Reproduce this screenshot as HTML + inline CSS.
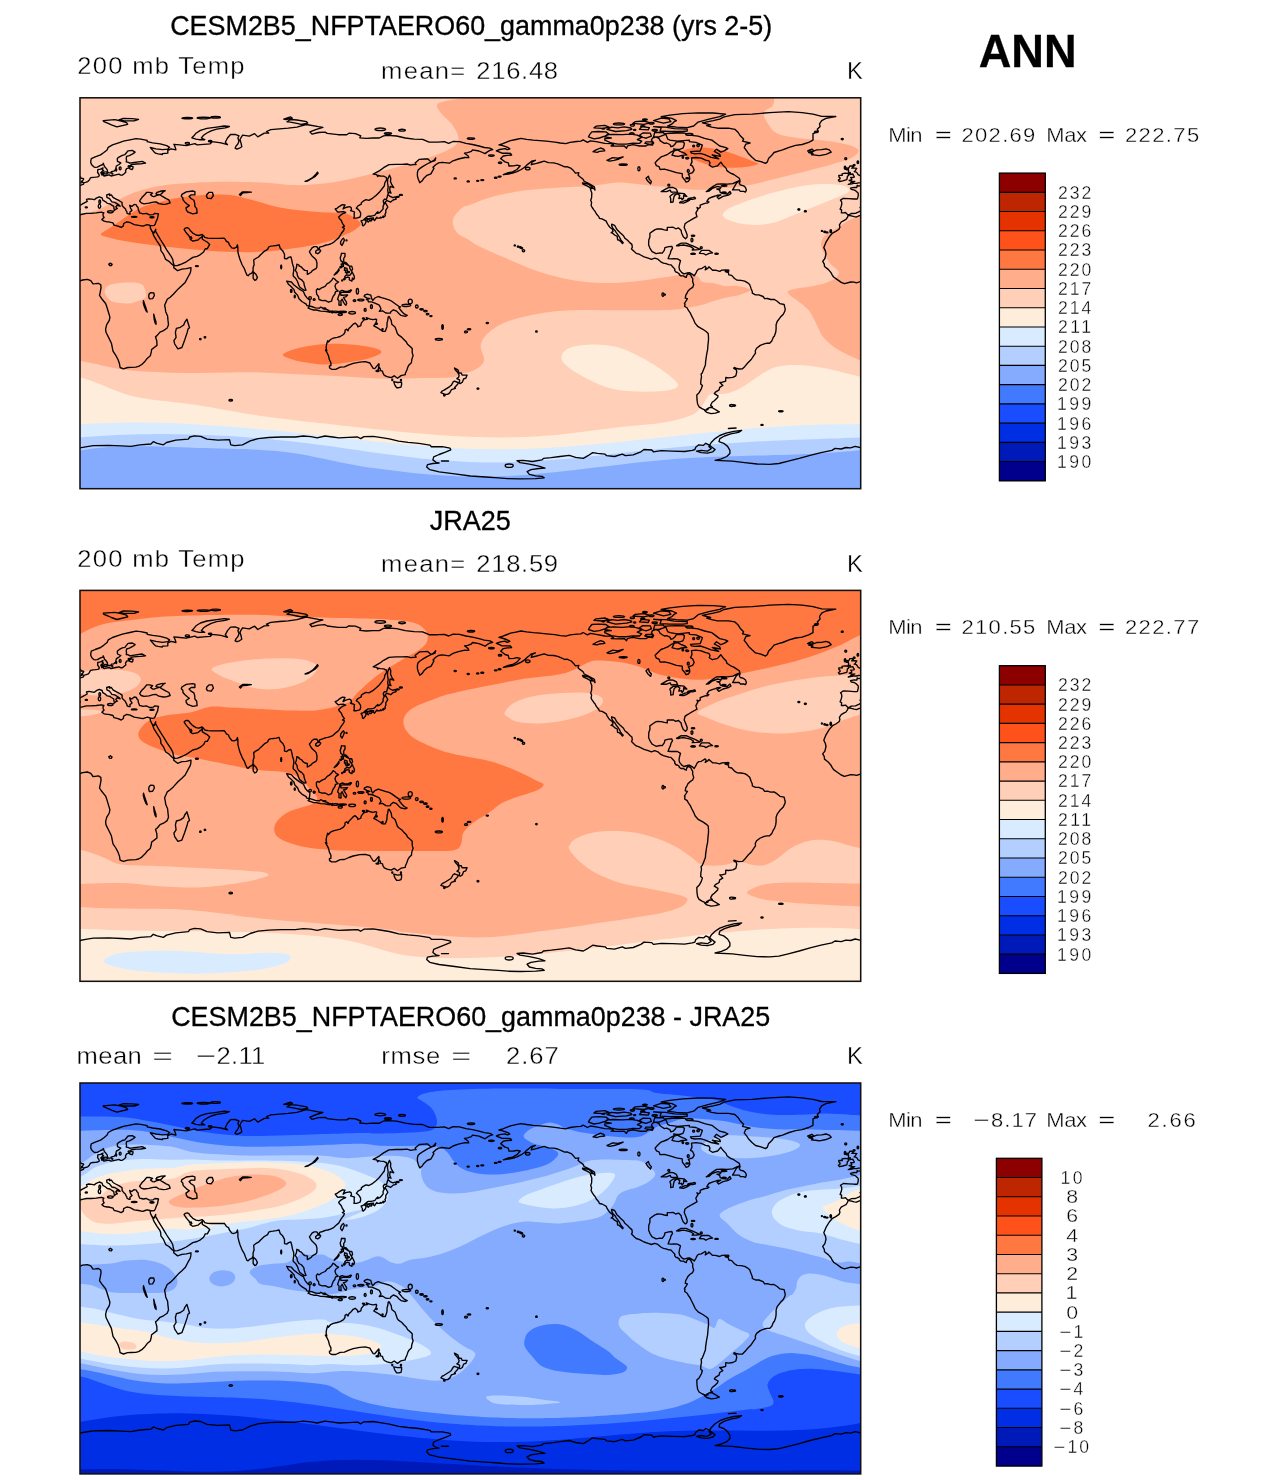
<!DOCTYPE html>
<html><head><meta charset="utf-8"><title>ANN 200 mb Temp</title>
<style>
html,body{margin:0;padding:0;background:#fff;}
body{width:1285px;height:1480px;overflow:hidden;font-family:"Liberation Sans",sans-serif;}
svg{display:block;position:absolute;left:0;top:0;will-change:transform;}
text{font-family:"Liberation Sans",sans-serif;fill:#000;}
.t{stroke:#fff;stroke-width:0.35px;}
.h{stroke:#000;stroke-width:0.3px;}
</style></head><body>
<svg width="1285" height="1480" viewBox="0 0 1285 1480">
<defs>
<clipPath id="mc"><rect x="80.0" y="97.8" width="780.70" height="390.90"/></clipPath>
<path id="coast" d="M847.9 215.5L849.2 215.3L854.2 216.6L856.4 217.0L859.4 215.7L862.7 215.2M78.0 215.2L83.3 214.0L86.5 213.3L90.8 213.3L96.3 212.9L101.3 212.2L103.9 212.9L103.0 214.2L103.2 216.2L104.1 217.5L101.9 219.6L104.1 221.2L107.1 221.8L108.6 221.8L113.0 222.9L114.0 225.1L118.0 226.1L121.2 227.4L123.4 225.9L123.6 223.5L126.8 221.8L130.1 222.5L134.2 224.6L138.6 225.3L142.9 226.1L145.1 225.3L147.2 224.6L150.0 225.3L150.5 228.3L152.6 232.4L153.7 235.7L157.0 241.1L160.0 245.5L160.7 247.6L160.9 250.7L163.5 254.2L165.7 259.4L168.9 261.3L172.2 264.6L173.9 266.1L173.7 267.6L177.6 270.7L181.9 269.1L186.3 268.7L191.0 267.6L190.8 270.7L190.2 273.1L188.0 277.0L185.2 282.4L181.9 285.6L178.2 288.9L173.3 294.3L170.2 297.2L167.2 299.3L166.1 301.9L164.6 305.2L165.2 308.0L165.7 311.7L167.6 316.1L168.0 320.4L168.5 324.7L167.2 328.0L163.5 330.6L160.0 332.1L157.0 335.6L155.5 336.7L156.8 341.0L157.0 345.4L151.6 349.5L151.3 351.9L150.3 355.8L147.2 358.4L145.1 361.2L141.8 364.5L138.6 366.4L135.7 367.1L131.0 367.3L127.7 367.5L123.4 368.8L120.1 367.5L119.5 363.8L118.0 359.5L115.8 355.4L113.0 351.2L111.4 343.2L109.3 338.9L106.0 332.3L105.6 329.1L106.7 324.7L109.3 320.4L109.9 317.1L108.6 312.8L106.7 306.5L105.6 303.5L101.7 298.7L99.5 295.4L100.2 292.2L101.0 287.8L100.8 284.8L98.4 283.3L95.2 283.7L93.0 283.9L90.8 280.7L87.4 279.4L82.6 280.0L80.0 280.9L78.0 280.9M862.7 280.9L856.4 282.8L854.2 282.2L850.9 282.0L844.4 283.7L841.2 282.4L837.3 279.6L833.6 277.0L832.1 274.8L831.0 272.6L828.2 269.4L824.5 266.5L824.3 264.1L822.7 261.3L824.9 258.5L826.0 253.9L825.4 250.9L823.8 247.6L826.0 242.2L829.3 236.8L832.5 233.1L835.8 231.4L839.0 229.2L839.9 227.2L839.4 224.8L841.2 222.0L844.2 220.3L846.0 219.4L847.7 216.8L847.9 215.5M848.6 215.1L851.2 213.5L855.5 213.3L859.2 211.6L862.7 209.7M78.0 209.7L80.4 209.2L78.0 208.5M862.7 208.5L860.0 207.5L862.7 206.7M78.0 206.7L82.0 204.2L87.2 201.4L86.5 199.4L88.7 198.8L91.7 199.2L94.3 199.7L96.3 198.1L99.3 196.8L102.1 197.9L102.8 200.1L105.6 201.8L107.3 203.3L109.9 203.8L111.0 204.6L113.8 206.4L114.0 208.6L114.7 210.1L113.9 210.7L116.0 209.0L117.3 208.6L115.8 206.8L116.9 205.3L120.1 206.2L119.0 204.9L114.7 202.3L111.9 201.8L109.5 198.6L106.9 197.3L106.7 194.9L109.7 194.0L109.5 195.5L111.4 194.9L113.0 197.3L115.6 198.8L119.3 200.7L122.1 202.5L122.1 205.3L123.4 207.0L125.5 209.0L125.8 210.1L126.8 211.6L127.1 213.3L128.8 214.0L130.1 214.0L129.9 212.0L131.4 210.9L132.0 210.3L130.5 208.1L129.7 205.3L131.8 206.4L134.2 204.4L136.4 204.9L136.8 206.2L138.1 207.5L138.3 209.6L139.2 211.8L139.6 212.9L141.4 213.3L143.1 213.8L146.4 213.3L149.4 214.9L153.1 214.6L155.0 213.3L158.5 213.8L157.9 216.2L157.6 218.3L157.0 219.6L155.9 222.0L155.3 223.8L154.4 225.3L152.6 225.7L150.0 225.3L150.5 228.3L150.9 229.2L152.0 231.4L154.2 232.9L154.8 231.4L155.7 229.2L155.5 231.4L156.3 232.4L158.1 235.7L160.7 240.0L163.5 244.4L164.8 246.6L166.7 249.8L168.9 253.1L171.1 256.3L172.8 259.6L173.3 262.8L174.3 265.7L177.6 265.5L181.9 263.9L186.3 261.8L192.8 257.4L197.1 256.3L200.4 254.6L203.6 252.0L205.3 248.7L207.3 248.7L209.7 244.4L207.1 242.0L203.6 240.0L202.3 239.0L202.3 235.9L201.4 237.2L199.9 238.3L198.0 240.0L192.8 241.1L191.9 240.5L190.2 239.4L191.9 238.3L191.0 236.6L189.9 237.9L188.9 235.7L187.3 234.0L185.6 231.8L184.1 229.4L185.4 228.1L187.3 227.7L188.9 228.5L190.2 230.5L192.8 233.1L196.0 235.0L198.8 235.5L202.1 234.4L203.6 235.7L204.7 237.4L207.9 238.1L211.4 238.3L218.8 238.3L224.2 238.1L225.3 239.4L226.4 241.3L228.5 242.4L229.4 244.8L231.8 247.9L234.0 248.3L236.6 247.2L237.4 244.8L237.9 247.6L237.9 252.0L239.0 256.3L240.0 259.6L242.2 265.0L244.4 268.7L245.5 271.8L247.0 275.2L248.1 275.7L249.6 274.1L251.8 273.1L253.1 270.9L253.1 267.6L254.1 264.8L253.7 260.0L255.7 258.5L258.5 257.0L260.6 254.8L264.3 251.3L267.6 249.4L268.7 247.0L270.8 246.1L273.0 245.9L276.3 245.5L279.1 244.8L280.2 248.3L282.8 250.9L284.5 254.2L284.5 258.5L286.7 258.9L288.6 257.4L290.8 256.8L291.7 259.6L292.5 263.9L293.6 267.2L293.8 270.4L293.2 273.7L293.2 276.1L295.8 278.5L297.5 281.5L298.6 284.6L299.7 287.0L301.6 288.5L304.5 290.4L306.0 290.2L305.1 287.8L304.2 285.0L303.8 282.4L301.6 279.8L299.0 278.3L297.5 275.9L296.9 272.6L295.3 270.4L296.4 267.6L296.9 264.1L299.0 265.0L299.0 265.9L301.6 267.2L303.4 269.4L304.9 270.4L307.3 270.7L307.3 274.4L308.8 273.7L311.4 272.0L312.3 270.7L315.9 268.7L316.8 267.4L317.0 263.3L316.2 260.0L314.6 258.3L312.0 255.9L310.5 253.7L309.4 251.6L311.2 249.2L312.0 247.9L314.2 246.6L316.8 246.6L318.1 248.7L319.0 249.2L319.6 247.2L322.5 246.3L326.1 245.0L327.7 244.8L330.5 244.0L333.1 242.7L336.1 240.0L338.7 237.9L339.4 236.6L341.3 233.5L342.4 232.0L343.7 230.3L344.4 228.3L342.4 227.4L344.4 226.1L343.5 224.8L342.4 223.3L341.3 220.5L339.1 218.1L338.7 217.0L340.9 214.9L343.5 213.3L345.7 212.5L343.3 211.6L340.2 211.8L338.1 212.2L336.5 210.7L335.2 209.0L337.0 208.3L339.1 206.6L342.4 204.6L345.0 204.9L343.7 207.5L343.1 209.0L345.7 207.5L349.6 206.6L351.1 207.5L351.5 209.6L350.6 210.7L353.2 211.4L354.5 212.0L354.1 214.0L354.3 216.2L353.9 218.1L356.5 218.1L358.7 217.5L360.0 217.0L360.6 215.1L360.6 212.9L359.3 210.7L358.2 209.4L356.3 208.1L358.0 205.9L361.3 204.2L361.3 202.7L363.2 201.2L366.0 199.7L368.9 200.3L372.8 198.1L376.0 195.5L379.3 192.3L381.9 189.0L384.3 185.8L384.9 182.5L386.6 179.9L386.4 177.5L383.6 176.2L380.4 176.0L378.2 175.5L377.8 176.6L376.7 174.7L373.2 174.2L379.7 170.6L383.6 167.7L389.0 164.7L396.0 164.3L402.0 164.3L407.0 164.0L410.7 165.1L412.9 164.7L416.1 164.5L415.1 162.9L419.4 159.3L424.8 159.0L427.6 158.8L431.1 161.9L435.0 160.6L435.7 158.0L433.9 160.3L431.3 161.9L427.0 164.0L422.6 166.6L420.0 168.4L418.1 170.1L417.4 172.7L417.4 176.0L418.3 179.2L419.8 182.7L422.2 180.8L423.9 178.2L427.0 175.3L430.9 173.8L432.4 171.2L433.9 168.4L433.0 167.3L435.7 164.7L438.5 162.9L442.2 162.3L449.3 163.2L453.0 160.8L458.4 159.0L464.9 157.5L468.8 157.7L468.2 156.0L464.5 153.2L467.7 152.7L471.4 151.4L472.5 149.9L479.0 151.0L485.1 153.6L487.0 152.1L489.9 150.4L492.7 149.7L489.9 148.2L484.4 147.5L479.0 146.0L472.5 144.5L466.0 143.4L459.5 141.7L453.0 141.5L448.7 143.4L444.3 141.7L437.8 142.1L429.1 142.1L422.6 139.3L414.0 139.1L405.3 138.0L396.6 136.0L387.9 135.4L383.6 135.8L379.3 138.0L372.8 138.0L366.3 138.4L359.8 137.8L360.8 135.8L355.4 133.6L348.9 133.2L346.7 134.7L338.1 134.7L327.2 133.4L325.1 132.1L318.5 132.5L312.0 134.1L309.9 131.9L316.4 129.3L322.9 127.3L318.5 126.7L306.2 124.5L296.9 127.1L288.2 128.2L279.5 128.9L270.8 129.7L266.5 131.5L268.7 133.0L264.3 133.2L257.8 136.9L254.6 133.6L249.2 136.2L242.6 135.2L240.9 137.8L240.0 139.5L241.1 143.4L241.8 146.7L239.4 148.2L237.0 149.1L235.1 148.2L236.1 146.0L237.7 144.3L239.0 141.2L237.9 138.0L239.0 135.8L235.1 134.3L230.5 134.5L227.5 138.0L225.3 142.3L227.5 144.7L221.0 142.8L212.3 141.7L210.1 143.8L203.6 144.3L197.1 144.9L194.9 143.6L186.3 145.6L179.8 144.9L173.9 144.3L175.4 147.7L175.9 149.9L171.1 148.8L167.8 150.4L167.8 153.2L162.4 153.6L162.4 154.5L158.1 153.8L155.5 153.2L153.7 151.4L150.3 147.5L155.9 148.8L162.4 149.7L167.8 149.1L169.6 147.3L166.7 145.6L160.2 143.8L152.6 142.8L147.2 141.7L147.2 140.4L140.7 139.1L136.0 138.6L129.9 139.9L123.4 141.2L120.1 142.3L112.5 144.9L108.2 147.3L107.1 149.9L103.9 152.5L100.6 154.9L95.2 156.9L91.3 158.6L90.8 160.8L90.8 162.9L91.9 165.1L94.1 167.1L95.2 167.3L97.3 167.1L100.6 165.3L103.0 164.5L103.2 163.2L103.9 164.9L104.5 166.6L105.8 167.9L107.3 169.9L107.5 171.6L108.2 172.9L110.8 172.9L111.4 171.6L113.8 171.2L115.6 169.5L116.0 167.7L116.4 166.0L119.0 164.5L120.8 162.9L117.5 161.4L117.3 158.6L119.0 157.1L122.3 155.3L124.9 154.7L126.6 152.5L128.1 150.8L132.3 150.4L135.1 152.1L133.1 153.6L129.4 155.6L126.6 156.4L126.2 158.6L126.6 160.3L126.2 161.9L128.4 162.3L129.9 163.2L134.2 162.5L138.6 161.9L142.2 161.4L145.5 163.2L140.7 163.8L136.4 164.0L133.6 164.3L131.0 164.7L131.0 166.2L133.1 166.6L132.7 168.8L132.0 169.5L129.9 168.8L129.0 167.9L126.6 168.6L125.5 170.6L125.8 172.3L123.8 174.0L122.3 175.1L120.6 175.1L119.0 174.2L115.8 174.9L111.0 176.0L109.3 174.9L106.2 175.5L103.9 176.0L103.6 175.1L101.7 174.9L101.5 173.8L100.8 172.7L102.3 171.2L103.6 170.6L102.3 169.5L103.0 167.9L100.6 169.2L97.8 169.7L97.6 172.5L98.7 174.0L99.3 175.3L98.9 176.2L97.8 176.8L95.4 177.1L93.0 177.3L90.8 177.7L90.2 178.3L89.3 180.1L87.8 181.6L85.4 182.3L84.0 182.6L83.5 184.2L80.4 185.3L78.0 185.4M862.7 185.4L858.1 186.0L857.2 185.3L856.8 187.5L854.2 187.3L850.5 188.1L851.4 189.4L854.6 190.1L855.9 191.0L858.1 193.1L858.3 194.4L858.1 196.4L857.4 198.8L856.8 199.0L854.2 199.0L848.3 198.6L843.4 198.3L840.5 200.1L841.6 201.8L841.8 204.0L841.2 206.4L840.1 209.2L841.6 209.9L841.4 212.9L843.6 212.9L845.5 212.5L847.0 214.0L848.6 215.1M848.3 184.4L851.8 183.8L853.3 183.4L856.4 183.4L858.3 182.9L862.7 182.9M78.0 182.9L80.7 182.9L82.8 182.3L82.2 181.6L81.5 181.4L82.8 180.5L83.7 179.0L82.8 178.4L80.9 178.4L80.7 177.1L78.0 176.1M862.7 176.1L860.5 175.8L858.1 174.7L857.4 173.4L856.4 172.1L854.2 171.6L855.1 171.0L856.1 169.2L856.8 168.4L853.1 167.9L851.8 168.2L854.0 166.0L849.9 166.0L849.0 167.5L848.1 168.8L848.6 170.6L848.3 173.2L850.3 172.5L849.9 174.5L852.9 174.0L853.3 175.3L854.2 176.4L854.0 177.3L850.7 177.5L851.6 178.6L851.8 179.7L849.2 180.5L851.6 181.2L853.8 181.5L854.8 181.4L853.1 182.1L851.4 182.3L849.9 183.8L848.3 184.4M847.3 177.5L846.8 179.7L842.7 180.8L839.4 181.5L838.4 180.1L840.1 178.8L839.9 177.5L839.0 177.1L838.8 175.3L842.3 175.3L842.0 173.8L844.9 173.2L847.7 173.4L848.6 174.7L848.6 175.5L847.3 176.4L847.3 177.5M811.5 154.7L817.3 155.3L819.5 155.6L826.0 154.3L827.7 153.7L831.2 152.1L829.3 149.9L826.0 148.8L821.7 149.7L816.7 149.9L814.1 151.0L811.9 149.1L808.7 150.4L807.6 151.0L813.0 151.4L811.9 152.5L808.7 152.5L813.0 153.6L811.5 154.7M496.4 150.8L499.6 149.5L505.0 148.6L507.2 149.7L509.8 148.8L508.3 147.7L505.0 146.4L501.8 145.4L499.0 144.8L502.9 143.6L507.2 141.9L510.5 140.6L515.9 139.5L520.9 138.4L526.7 139.3L533.2 140.1L539.7 140.6L546.3 141.2L554.9 142.1L560.3 143.0L565.8 143.6L570.1 142.3L576.6 141.5L580.9 141.2L583.1 139.9L587.5 142.3L590.3 140.8L596.1 141.7L604.8 143.4L611.3 143.6L613.5 145.1L611.1 146.0L617.8 146.2L624.3 146.0L626.5 148.2L627.6 145.8L633.0 144.7L639.5 146.0L646.0 146.0L648.2 144.5L652.5 145.1L653.6 142.8L651.4 140.1L652.5 138.0L655.8 136.9L659.0 138.4L660.1 140.6L662.3 142.1L664.4 143.4L666.6 143.0L669.9 144.5L670.9 146.7L673.1 146.0L675.3 143.8L676.4 141.9L682.9 141.7L684.4 143.2L684.0 145.6L682.9 148.2L679.6 149.3L676.4 149.3L673.8 148.8L674.2 150.4L670.9 152.1L667.7 154.3L664.0 155.8L661.0 156.9L656.9 160.8L655.1 162.9L656.4 165.6L659.0 166.6L660.1 169.5L664.4 169.2L669.9 170.6L676.4 172.7L682.2 173.6L682.4 177.1L685.0 180.3L686.1 182.1L688.3 181.4L689.8 179.2L689.4 176.0L688.3 174.2L692.6 172.7L694.2 169.9L692.6 166.2L690.5 165.1L692.0 161.9L691.5 158.0L695.9 157.5L701.3 158.2L705.6 160.1L708.9 160.8L710.0 162.9L709.3 165.1L712.4 167.1L717.6 165.8L719.7 163.4L720.8 162.1L723.0 165.1L726.2 168.4L726.9 170.6L730.6 173.2L733.8 174.5L736.0 176.0L739.3 178.2L739.9 180.3L736.9 181.6L732.8 183.6L727.3 184.2L721.9 184.0L716.7 184.2L713.2 186.4L710.0 188.6L707.8 190.5L706.3 191.6L708.9 191.2L712.2 188.4L717.6 186.4L721.0 187.3L719.7 189.0L716.9 189.0L719.7 190.1L720.2 192.3L722.3 193.4L727.3 194.0L729.9 191.4L731.0 193.4L728.4 195.1L723.0 196.4L718.7 198.8L717.1 197.0L720.8 194.9L717.6 195.1L715.4 196.0L712.2 197.0L708.9 198.3L707.4 200.5L706.9 201.4L708.9 202.0L707.6 203.1L705.9 203.1L703.5 203.8L700.2 205.1L700.2 207.5L698.3 208.6L697.0 207.5L697.8 209.6L696.3 212.2L695.9 212.9L696.1 213.8L697.0 216.6L694.6 217.9L691.5 219.6L688.9 221.2L687.4 222.0L685.0 223.8L684.2 227.4L685.9 231.4L687.2 235.0L687.0 237.2L685.5 238.7L683.3 236.8L681.6 232.9L681.1 230.3L678.5 227.9L675.7 228.8L673.1 227.2L669.9 227.4L667.3 227.4L667.3 230.3L664.4 229.8L661.2 229.0L657.3 228.8L655.1 229.6L652.5 231.4L649.9 233.3L649.9 237.0L648.8 240.0L648.6 244.8L649.9 248.1L652.1 251.6L654.7 252.9L656.0 253.7L660.1 252.9L662.3 253.1L664.4 250.1L664.9 247.6L668.8 246.6L671.8 246.3L672.5 248.1L670.9 250.9L670.3 253.5L669.4 255.2L668.1 258.7L670.9 258.9L674.2 258.7L677.5 258.9L680.5 260.7L679.6 263.9L679.0 267.2L679.6 269.8L681.8 272.6L684.0 273.9L687.4 272.9L689.4 272.6L692.8 274.6L694.2 275.9L695.9 273.1L697.0 270.7L698.5 269.1L701.3 268.7L705.2 266.3L706.1 267.6L705.2 269.8L707.8 268.3L708.9 266.8L712.6 270.2L715.4 270.2L719.7 271.3L721.9 270.2L726.2 270.0L725.2 271.5L728.4 272.6L728.8 274.8L731.7 275.4L734.5 278.5L737.1 280.2L741.0 280.4L744.7 281.1L747.3 282.6L749.7 284.6L751.2 288.9L752.3 291.5L752.3 293.2L755.5 294.8L758.8 294.8L763.1 296.5L764.6 298.7L767.4 298.5L770.7 299.5L774.0 299.3L777.2 301.3L780.0 303.7L784.1 304.5L784.8 307.4L785.2 308.7L785.0 310.8L783.3 314.3L780.5 317.1L777.2 321.5L776.1 324.7L776.1 329.1L775.7 332.3L774.4 336.0L773.3 337.3L771.8 341.0L769.6 343.2L767.0 343.2L764.2 343.8L760.3 345.4L756.6 348.2L755.3 350.8L755.5 353.2L753.4 356.2L751.2 359.5L747.7 363.0L744.9 366.4L742.5 368.8L738.8 369.0L736.0 368.2L734.1 367.5L733.8 368.4L736.4 369.9L736.7 372.1L735.8 375.8L732.8 377.3L728.4 377.9L725.8 377.5L725.6 381.2L721.9 382.3L719.7 382.3L722.8 385.5L719.7 387.3L719.1 389.9L715.4 392.1L714.3 393.6L718.0 395.8L717.6 397.5L714.3 400.7L712.2 402.3L710.6 405.3L712.4 406.8L710.0 407.3L706.9 408.8L706.1 410.3L702.4 408.8L699.1 406.8L697.6 404.0L697.0 399.7L696.8 394.9L699.1 392.7L701.3 388.8L702.4 385.5L700.7 384.0L700.9 380.1L701.5 376.9L701.1 374.0L702.2 373.0L703.3 370.3L705.4 364.9L705.6 361.7L706.1 358.2L706.7 354.1L707.6 349.7L708.0 344.5L708.5 339.9L708.5 337.1L708.2 333.4L706.1 331.5L702.8 329.3L698.1 326.7L695.2 323.4L693.5 319.5L691.5 315.6L690.2 312.8L688.3 310.2L687.2 308.0L684.6 306.3L685.0 304.1L684.4 303.5L686.1 300.9L687.4 298.7L685.3 298.2L685.7 295.3L687.0 293.2L687.9 291.2L689.8 289.3L692.6 287.4L693.7 284.8L692.6 281.3L692.8 278.7L691.8 277.4L691.1 275.9L690.7 275.0L688.3 273.8L686.8 275.2L686.3 277.4L685.0 277.0L683.5 275.9L680.9 275.9L679.2 274.6L679.2 273.7L677.0 272.2L676.2 272.4L674.6 270.4L674.9 269.1L673.1 267.2L670.9 264.8L668.8 264.6L666.0 263.7L663.4 263.1L660.8 261.8L657.9 259.2L654.7 258.1L651.4 259.3L648.2 258.1L644.1 256.8L640.6 255.0L639.1 254.2L636.2 253.3L634.5 251.8L631.5 248.9L632.3 247.2L631.9 244.4L630.0 242.9L627.6 240.3L624.8 238.1L623.5 235.7L620.2 232.7L618.9 231.4L616.7 229.2L615.6 227.0L614.6 225.3L611.7 224.2L611.7 225.9L613.0 228.5L615.2 230.7L616.1 232.4L617.8 234.6L619.3 236.8L620.6 239.4L621.5 240.8L623.2 242.7L622.4 243.5L621.5 242.2L618.9 240.0L617.6 239.8L617.2 236.4L614.6 235.0L612.4 232.9L611.1 232.8L613.0 231.4L612.4 229.2L609.8 227.2L608.5 225.5L607.6 224.0L606.8 222.7L606.3 221.2L603.9 219.8L602.0 218.8L599.4 218.3L598.7 216.6L596.3 213.8L595.0 211.2L594.0 210.1L592.2 207.5L591.1 205.5L591.6 202.5L590.7 200.3L591.6 197.7L591.8 192.9L590.7 190.1L590.3 188.1L594.0 188.6L595.0 190.1L594.4 186.8L590.7 184.7L587.5 182.9L584.2 181.4L583.1 179.2L579.9 176.8L578.1 175.3L578.8 172.7L575.5 173.2L573.4 170.6L571.2 168.4L566.9 166.6L564.7 166.9L561.9 165.6L557.7 163.8L553.8 162.9L548.4 162.7L544.1 161.2L539.7 162.5L536.5 163.4L531.3 164.7L532.2 161.9L535.4 160.3L531.5 161.2L528.9 163.4L526.7 165.1L524.6 167.3L521.3 169.5L517.0 171.6L512.6 173.2L508.3 174.0L503.3 174.7L508.3 172.7L512.6 171.9L517.0 169.5L520.2 165.8L517.0 165.1L513.7 165.8L509.0 166.0L508.3 162.9L505.0 161.9L502.2 159.7L500.7 158.6L503.3 156.0L507.2 155.3L511.6 155.1L510.5 153.4L507.2 153.2L502.0 153.2L499.6 152.1L496.4 150.8M710.6 124.9L702.4 122.8L713.2 120.6L719.7 119.1L724.1 116.9L734.9 114.7L752.3 114.1L769.6 112.6L788.3 111.7L802.1 112.6L813.0 114.1L821.7 116.3L835.8 116.5L826.0 118.4L821.7 120.6L819.5 123.9L820.1 126.5L817.3 129.3L818.4 131.5L813.0 133.6L813.0 136.5L813.0 140.1L808.7 142.3L802.1 144.5L795.6 145.4L789.1 147.3L782.6 149.9L779.2 150.8L774.0 152.5L771.8 155.3L768.5 158.6L767.4 161.9L765.5 163.4L760.9 161.6L755.5 160.3L752.3 157.5L748.6 153.8L746.8 151.0L744.2 147.7L745.8 144.1L750.1 143.0L742.5 141.2L743.6 139.1L740.3 135.8L738.2 132.5L734.9 129.3L728.4 128.2L717.6 128.2L711.7 127.1L706.7 125.6L710.6 124.9M727.8 148.6L724.1 150.8L720.8 152.1L716.5 149.1L714.3 151.4L719.7 154.3L720.4 156.4L712.2 154.9L718.7 158.8L711.1 157.3L704.6 154.7L700.2 153.4L694.8 153.8L691.5 153.2L690.5 151.7L700.2 151.0L701.3 148.2L702.4 145.1L695.9 142.3L689.4 141.7L689.4 140.1L677.5 141.2L669.9 140.1L667.7 139.1L665.5 133.6L676.4 133.0L685.0 133.2L687.2 135.4L691.5 135.4L698.1 136.2L704.6 138.4L711.9 140.1L715.4 142.8L719.7 146.0L725.2 147.3L727.8 148.6M604.8 140.1L611.3 143.0L617.8 144.1L626.5 144.1L633.0 143.2L639.5 143.4L641.7 141.2L637.3 139.5L641.7 137.3L637.3 135.2L630.8 134.1L622.2 134.7L613.5 134.3L607.0 134.7L604.8 136.9L611.3 138.0L604.8 138.6L604.8 140.1M594.0 138.8L599.4 138.0L604.8 136.2L609.1 134.3L605.9 131.9L598.3 131.5L591.8 131.9L589.6 134.7L588.5 136.9L594.0 138.8M687.2 127.6L693.7 126.0L698.1 122.1L708.9 119.1L719.7 116.7L725.6 114.1L713.2 113.0L698.1 112.8L682.9 113.7L669.9 115.2L661.2 116.7L672.0 118.4L676.4 120.6L674.2 121.7L672.0 123.9L667.7 126.0L676.4 127.1L687.2 127.6M653.6 120.6L661.2 118.2L668.8 118.9L670.9 121.7L663.4 123.2L653.6 120.6M687.2 131.0L682.9 131.5L669.9 131.5L660.1 131.0L661.2 127.6L653.6 126.7L665.5 127.1L674.2 128.6L687.2 129.1L687.2 131.0M672.0 155.1L674.2 150.8L677.5 149.9L680.7 151.7L685.0 153.4L686.8 154.9L681.8 155.3L678.5 156.4L675.3 156.0L672.0 155.1M607.0 129.3L615.6 131.5L626.5 130.6L631.9 129.3L630.8 128.0L624.3 126.9L617.8 127.8L611.3 127.1L607.0 129.3M646.0 138.2L651.4 136.2L650.3 133.2L642.8 133.0L639.5 135.2L642.8 137.3L646.0 138.2M653.6 136.7L659.0 136.9L664.9 134.7L663.4 132.5L654.7 132.5L653.6 136.7M639.5 129.3L648.2 129.9L649.3 127.6L641.7 126.7L639.5 129.3M644.9 143.4L650.3 144.3L653.6 143.4L651.4 141.7L646.0 141.9L644.9 143.4M594.0 127.8L602.6 128.4L609.1 127.1L604.8 125.4L596.1 126.2L594.0 127.8M633.0 123.4L643.8 124.3L650.3 122.8L643.8 121.0L635.2 121.7L633.0 123.4M740.1 181.2L739.3 183.4L740.3 184.9L743.6 185.8L745.5 187.5L746.4 189.9L745.5 192.1L743.6 191.4L740.3 191.4L739.3 189.9L736.0 189.9L732.5 189.9L733.8 187.9L734.9 185.8L736.4 183.1L738.6 181.4L740.1 181.2M676.6 245.7L680.7 243.3L682.0 243.1L686.1 243.1L689.4 244.6L693.3 246.1L696.5 247.6L700.0 249.4L696.3 249.8L692.2 250.0L693.5 248.5L690.5 246.6L686.1 245.5L683.3 245.0L680.7 245.3L678.5 245.9L676.6 245.7M699.4 253.3L701.5 250.3L704.6 250.3L708.9 250.3L710.6 251.6L712.5 252.9L709.1 253.3L705.9 255.0L703.9 253.7L699.4 253.3M582.5 182.9L589.0 184.4L593.1 188.1L590.1 187.7L587.5 186.2L583.1 184.2L582.5 182.9M711.9 407.5L719.3 411.9L715.4 413.1L711.1 413.6L706.7 412.3L704.6 410.5L707.8 409.7L708.5 407.9L710.4 407.5L711.9 407.5M661.2 191.6L667.3 188.1L669.9 187.3L673.1 187.5L676.4 189.2L677.7 192.3L674.2 192.1L671.2 192.2L670.1 190.2L666.6 191.6L663.8 191.6L661.2 191.6M670.7 202.4L673.1 202.0L673.5 198.8L674.2 196.0L676.9 193.8L673.1 193.8L670.3 196.0L669.9 196.6L670.7 198.8L670.7 202.4M677.0 193.6L679.6 193.1L684.0 193.6L686.8 196.4L684.4 196.2L683.7 195.1L683.5 198.2L682.0 199.9L681.6 198.1L678.8 198.5L679.8 195.4L677.0 193.6M679.6 202.7L683.5 203.1L687.0 201.7L689.6 200.1L688.3 200.1L685.0 200.5L681.8 202.0L680.3 201.8L679.6 202.7M687.6 199.2L688.5 198.5L692.6 197.7L694.8 197.2L695.5 198.6L692.4 199.3L689.4 199.2L687.6 199.2M650.6 183.8L651.4 181.4L649.3 179.2L648.4 176.2L646.0 178.2L647.5 180.8L650.6 183.8M607.0 160.3L612.7 157.6L617.8 158.2L623.2 156.9L618.9 159.0L614.1 160.3L609.6 161.1L607.0 160.3M593.1 151.7L596.1 149.9L600.5 148.0L603.7 149.1L604.8 150.8L599.4 151.4L597.2 152.3L593.1 151.7M389.0 316.5L391.2 320.4L391.8 324.3L395.0 326.9L396.2 330.0L397.3 333.4L398.4 334.9L401.6 337.1L403.6 339.3L406.4 342.1L407.5 344.3L410.7 347.1L412.2 348.6L412.2 352.8L413.1 355.6L411.8 359.5L411.4 362.7L409.2 364.7L407.9 366.9L407.0 369.7L405.3 373.6L405.3 374.7L401.0 375.6L397.5 378.2L394.2 375.8L391.2 377.6L387.1 376.6L384.3 375.3L383.0 373.2L382.5 371.2L380.4 370.6L380.4 369.0L379.5 367.5L378.2 369.7L379.1 364.9L378.8 363.8L376.0 367.1L374.7 368.6L373.2 368.4L371.0 364.9L369.9 363.0L365.2 361.7L359.8 362.1L353.2 363.4L348.9 364.9L344.4 366.9L340.2 367.1L335.7 369.3L331.6 369.3L329.6 368.0L329.4 366.0L330.9 365.6L330.9 362.7L329.4 359.5L328.5 355.8L327.2 353.0L325.4 350.0L326.8 350.8L326.1 347.5L326.6 344.3L327.7 340.6L328.3 342.1L330.5 339.5L333.3 338.2L337.2 337.3L340.2 336.5L343.5 334.5L345.0 332.3L345.0 330.2L346.7 329.1L348.0 330.8L348.9 328.6L351.1 326.5L353.2 324.1L355.2 323.1L357.6 325.4L357.8 326.9L360.8 325.6L361.3 323.2L363.7 320.2L365.2 319.7L367.3 319.3L366.3 317.6L369.5 318.9L372.8 319.7L376.0 319.1L376.7 319.7L376.0 322.6L374.7 324.7L373.8 325.8L377.1 327.6L380.4 329.7L382.5 331.3L385.3 331.3L386.9 326.9L387.1 322.6L387.7 320.6L388.2 317.1L389.0 316.5M393.8 381.6L397.7 382.5L401.6 382.1L401.6 384.5L401.0 387.1L398.8 387.7L396.6 387.7L395.1 385.5L394.4 384.0L393.8 381.6M454.5 368.0L458.0 369.9L459.1 373.2L461.2 373.0L462.1 375.1L467.1 375.1L465.8 378.2L463.6 379.0L462.3 382.3L460.2 383.6L459.1 382.9L459.7 380.6L459.5 379.9L456.9 378.6L458.6 377.3L459.1 375.3L457.8 372.5L455.2 369.7L454.5 368.0M454.5 381.2L458.0 382.5L457.8 384.0L456.7 385.3L454.5 387.7L455.4 388.4L451.4 389.7L449.7 392.9L447.6 394.4L445.2 394.4L443.2 393.6L440.9 392.7L442.2 391.0L444.1 390.1L446.5 388.6L449.7 386.6L451.3 385.3L452.1 383.9L453.2 381.9L454.5 381.2M364.6 295.2L367.3 294.1L370.8 295.1L371.7 298.7L372.8 300.4L374.9 298.0L378.2 296.5L381.4 297.6L385.1 298.7L389.0 299.8L391.4 301.0L396.2 304.5L398.8 306.3L400.5 306.9L398.8 307.8L402.0 311.7L404.2 313.9L407.2 315.4L405.3 316.3L401.0 315.4L399.1 313.8L396.6 311.1L393.4 309.8L390.8 311.7L390.5 313.0L387.9 313.2L385.8 313.0L382.5 310.8L379.3 311.3L381.0 308.9L380.4 307.4L379.3 305.2L374.9 303.2L371.7 301.9L368.4 301.9L368.0 300.2L366.3 299.3L369.9 298.7L366.7 297.8L364.1 296.3L364.6 295.2M317.7 288.8L319.2 289.6L321.6 287.8L325.1 286.3L327.2 283.7L329.4 282.6L331.8 280.2L333.1 278.0L335.2 279.4L336.1 280.7L338.5 282.0L335.7 284.0L335.0 286.1L335.9 288.9L338.1 291.1L335.5 291.7L334.8 294.3L333.3 296.1L332.2 298.7L331.6 301.1L328.5 302.2L325.1 300.4L322.2 300.6L319.0 299.5L318.5 296.5L316.8 294.3L316.4 292.2L316.4 290.0L317.7 288.8M286.7 281.1L291.4 282.0L294.0 285.0L297.5 287.8L300.1 289.6L303.4 291.5L305.1 295.4L307.3 298.2L309.9 300.2L309.7 302.6L309.3 306.1L306.8 305.6L306.2 304.1L301.8 301.5L299.0 298.7L297.7 295.4L294.7 292.2L294.0 289.6L290.8 286.3L288.4 284.3L286.7 281.1M308.1 308.0L309.9 306.1L311.6 306.5L315.4 307.8L319.4 308.2L320.7 307.1L324.5 308.9L328.1 310.0L328.1 311.9L325.1 311.3L320.7 311.1L316.4 310.0L313.6 310.0L310.7 309.1L308.1 308.0M339.8 291.5L342.0 290.4L344.6 291.1L347.8 291.3L350.6 290.0L351.5 290.2L350.0 292.2L346.8 292.2L343.5 292.2L340.7 292.6L340.9 295.2L343.5 295.2L347.6 295.0L345.7 296.9L343.5 297.4L345.0 299.8L346.3 301.9L346.7 303.0L345.9 305.2L344.4 303.7L343.5 302.4L342.2 299.1L340.9 300.9L341.1 305.4L338.9 305.0L339.1 300.9L337.6 299.3L338.7 295.9L339.8 293.2L339.8 291.5M341.5 253.1L345.0 253.3L345.0 256.3L343.7 258.5L343.7 260.7L343.9 262.4L345.9 262.4L349.1 265.9L347.4 265.0L344.6 263.3L342.4 263.5L342.3 261.7L340.9 260.9L340.2 257.9L341.1 255.2L341.5 253.1M352.2 272.0L354.1 275.9L354.5 277.6L353.7 279.6L352.4 278.0L351.9 281.1L349.3 279.8L349.3 277.6L347.6 277.0L344.8 278.3L344.8 276.5L346.7 274.8L349.3 275.4L350.3 274.8L352.2 272.0M334.2 275.0L337.0 273.1L339.1 270.4L338.9 268.7L337.6 271.1L335.5 273.3L334.2 275.0M349.6 266.1L351.7 266.1L352.6 268.9L351.5 271.1L350.6 269.8L349.8 268.3L349.6 266.1M344.6 267.6L347.0 268.3L347.4 270.9L347.0 273.5L345.4 272.2L345.9 270.2L344.4 270.4L344.6 267.6M341.1 264.1L343.3 264.1L343.5 266.3L342.4 266.8L341.1 264.1M343.5 238.3L344.4 240.0L343.3 242.9L342.0 245.5L340.5 243.5L340.7 241.6L342.4 239.0L343.5 238.3M315.7 251.3L317.5 249.8L319.8 249.6L320.7 250.7L319.6 252.4L317.7 253.7L315.7 252.9L315.7 251.3M385.6 203.1L386.9 205.3L387.8 207.1L385.8 210.1L385.8 212.9L384.9 214.4L385.4 215.7L383.3 217.5L383.2 215.9L382.7 216.8L381.1 218.1L380.4 217.2L379.7 218.1L377.1 218.1L376.9 217.2L375.6 219.0L374.5 220.6L373.1 219.0L373.6 218.0L370.6 218.1L368.4 218.8L367.2 218.7L364.1 219.4L364.0 219.5L365.0 218.5L367.8 216.4L368.5 216.2L371.1 216.2L373.4 215.7L374.9 215.1L376.4 213.1L377.9 211.8L377.5 213.3L379.8 212.5L381.5 210.8L383.2 208.6L383.0 206.6L383.6 205.1L384.4 203.7L385.6 203.1M383.8 203.3L385.2 202.5L385.8 201.4L387.1 200.7L390.7 202.1L393.1 200.0L396.2 199.1L395.2 196.9L392.9 197.7L390.1 196.4L387.8 194.4L387.3 196.6L386.5 199.3L384.4 199.1L383.2 201.0L383.8 203.3M363.9 219.6L365.7 220.3L366.0 222.0L365.1 224.0L363.3 225.9L362.4 225.3L362.4 223.3L361.6 222.1L361.1 220.9L362.8 220.3L363.9 219.6M367.3 219.6L370.7 218.7L372.1 219.8L371.0 221.0L369.6 220.5L368.2 222.1L367.1 220.9L367.3 219.6M389.5 175.2L390.8 178.2L390.5 181.4L391.8 184.7L393.8 187.6L390.1 186.4L389.7 190.1L391.0 193.1L389.7 192.1L388.2 193.6L387.7 190.1L388.2 186.8L387.5 182.5L387.7 179.2L389.5 175.2M253.5 272.0L256.1 274.6L257.4 277.4L256.3 279.6L254.8 280.4L253.2 278.3L253.1 275.4L253.5 272.0M186.9 319.2L189.5 327.8L188.0 329.1L187.1 332.7L184.7 339.9L181.9 347.5L177.9 348.8L174.7 344.0L173.9 340.6L176.1 337.3L175.4 332.3L176.4 328.4L180.4 327.3L183.7 325.0L184.7 322.4L186.9 319.2M181.9 194.4L186.3 191.8L192.6 191.0L194.9 191.6L194.9 194.9L191.2 194.9L189.1 196.4L191.0 198.5L193.9 200.3L194.7 203.1L194.9 206.4L196.7 208.6L197.1 213.0L192.8 213.8L187.6 211.8L186.3 209.9L186.0 207.9L189.3 205.6L187.3 204.2L184.7 201.9L183.0 199.9L182.8 197.7L181.3 196.2L181.9 194.4M141.2 202.9L139.6 201.0L140.6 199.4L142.1 197.3L144.4 195.1L146.7 192.3L149.4 192.3L152.6 193.1L150.5 194.8L152.6 196.4L154.1 196.6L156.8 195.4L159.2 194.8L155.9 193.8L157.0 192.3L161.4 191.0L165.2 190.7L162.8 192.3L161.3 194.0L159.8 194.7L160.9 195.5L162.0 196.2L166.1 198.6L168.9 199.9L170.2 202.9L166.1 204.2L163.3 204.4L158.8 203.6L156.2 201.9L153.2 202.1L149.0 203.2L144.0 203.8L141.2 202.9M206.9 194.4L209.0 192.3L212.3 192.3L213.4 195.5L211.2 198.6L207.5 198.1L206.4 196.2L206.9 194.4M305.1 181.4L307.7 181.0L311.0 179.0L315.3 176.4L318.1 173.2L317.5 172.1L315.9 174.2L312.7 177.5L308.8 179.9L305.1 181.4M239.4 194.4L242.6 191.8L247.0 191.8L251.3 192.1L247.0 192.7L242.6 192.9L240.5 195.5L239.4 194.4M149.0 294.3L150.5 292.6L153.7 292.8L154.4 295.4L152.6 298.7L149.4 298.9L148.7 296.5L149.0 294.3M143.5 300.6L144.6 304.1L146.1 308.5L147.2 312.1L145.9 310.6L144.2 306.3L143.3 303.0L143.5 300.6M153.7 314.1L154.8 318.2L155.9 321.5L156.1 324.3L155.0 322.6L154.2 319.3L153.7 314.1M108.8 264.1L110.4 263.1L112.1 264.4L111.4 265.7L109.5 265.5L108.8 264.1M191.9 137.8L193.9 135.8L196.0 133.2L200.4 130.4L206.9 128.4L216.6 127.1L224.2 126.0L229.4 126.5L225.3 127.8L216.6 129.1L211.2 130.8L206.9 133.0L203.6 135.2L201.4 138.0L204.7 139.7L199.3 139.7L196.0 139.1L191.9 137.8M103.2 120.6L114.7 119.7L121.2 121.0L126.6 122.6L127.7 124.3L116.9 126.9L111.4 124.9L108.2 123.4L103.9 121.7L103.2 120.6M119.0 120.0L123.4 118.4L132.0 118.6L138.6 119.3L134.2 120.8L124.5 120.8L119.0 120.0M287.1 121.7L290.4 119.5L296.9 120.0L306.6 121.7L307.7 123.2L301.2 124.3L296.9 123.4L290.4 122.1L287.1 121.7M283.8 119.1L290.4 116.9L292.5 118.2L286.0 119.5L283.8 119.1M619.1 164.7a4.1 0.7 0 1 0 8.2 0a4.1 0.7 0 1 0 -8.2 0ZM637.8 168.8a1.1 2.0 0 1 0 2.2 0a1.1 2.0 0 1 0 -2.2 0ZM667.8 185.1a1.0 0.9 0 1 0 2.0 0a1.0 0.9 0 1 0 -2.0 0ZM652.1 130.2a2.6 0.8 0 1 0 5.2 0a2.6 0.8 0 1 0 -5.2 0ZM613.3 123.9a5.6 0.9 0 1 0 11.3 0a5.6 0.9 0 1 0 -11.3 0ZM648.8 123.2a2.6 0.8 0 1 0 5.2 0a2.6 0.8 0 1 0 -5.2 0ZM685.9 134.3a3.5 0.8 0 1 0 6.9 0a3.5 0.8 0 1 0 -6.9 0ZM629.7 133.6a2.2 0.7 0 1 0 4.3 0a2.2 0.7 0 1 0 -4.3 0ZM642.8 119.5a2.2 0.5 0 1 0 4.3 0a2.2 0.5 0 1 0 -4.3 0ZM630.4 125.2a2.0 0.7 0 1 0 3.9 0a2.0 0.7 0 1 0 -3.9 0ZM633.6 129.9a1.1 0.5 0 1 0 2.2 0a1.1 0.5 0 1 0 -2.2 0ZM601.8 128.6a1.5 0.5 0 1 0 3.0 0a1.5 0.5 0 1 0 -3.0 0ZM640.8 126.2a2.0 0.5 0 1 0 3.9 0a2.0 0.5 0 1 0 -3.9 0ZM374.9 129.3a5.4 1.3 0 1 0 10.8 0a5.4 1.3 0 1 0 -10.8 0ZM398.8 130.2a3.3 0.8 0 1 0 6.5 0a3.3 0.8 0 1 0 -6.5 0ZM384.5 133.4a3.5 0.7 0 1 0 6.9 0a3.5 0.7 0 1 0 -6.9 0ZM467.3 138.6a3.7 0.8 0 1 0 7.4 0a3.7 0.8 0 1 0 -7.4 0ZM181.9 118.2a5.4 0.7 0 1 0 10.8 0a5.4 0.7 0 1 0 -10.8 0ZM197.1 118.0a6.5 0.8 0 1 0 13.0 0a6.5 0.8 0 1 0 -13.0 0ZM210.8 117.3a4.8 0.7 0 1 0 9.5 0a4.8 0.7 0 1 0 -9.5 0ZM525.6 168.6a2.2 1.1 0 1 0 4.3 0a2.2 1.1 0 1 0 -4.3 0ZM498.3 162.7a1.7 0.8 0 1 0 3.5 0a1.7 0.8 0 1 0 -3.5 0ZM488.6 155.6a2.8 0.7 0 1 0 5.6 0a2.8 0.7 0 1 0 -5.6 0ZM498.1 176.6a1.5 0.5 0 1 0 3.0 0a1.5 0.5 0 1 0 -3.0 0ZM494.4 177.7a1.3 0.5 0 1 0 2.6 0a1.3 0.5 0 1 0 -2.6 0ZM480.8 180.1a1.5 0.5 0 1 0 3.0 0a1.5 0.5 0 1 0 -3.0 0ZM476.6 180.8a1.1 0.5 0 1 0 2.2 0a1.1 0.5 0 1 0 -2.2 0ZM467.1 181.4a1.1 0.5 0 1 0 2.2 0a1.1 0.5 0 1 0 -2.2 0ZM454.1 178.4a1.1 0.5 0 1 0 2.2 0a1.1 0.5 0 1 0 -2.2 0ZM396.2 196.8a1.5 0.5 0 1 0 3.0 0a1.5 0.5 0 1 0 -3.0 0ZM399.4 194.9a1.5 0.5 0 1 0 3.0 0a1.5 0.5 0 1 0 -3.0 0ZM522.3 250.7a1.2 1.1 0 1 0 2.4 0a1.2 1.1 0 1 0 -2.4 0ZM521.0 248.1a0.8 0.5 0 1 0 1.5 0a0.8 0.5 0 1 0 -1.5 0ZM517.4 246.6a0.7 0.5 0 1 0 1.3 0a0.7 0.5 0 1 0 -1.3 0ZM514.2 245.4a0.6 0.5 0 1 0 1.2 0a0.6 0.5 0 1 0 -1.2 0ZM519.6 247.3a0.7 0.5 0 1 0 1.3 0a0.7 0.5 0 1 0 -1.3 0ZM690.8 253.8a2.3 0.6 0 1 0 4.6 0a2.3 0.6 0 1 0 -4.6 0ZM714.8 253.7a1.7 0.5 0 1 0 3.5 0a1.7 0.5 0 1 0 -3.5 0ZM726.7 270.7a1.1 0.8 0 1 0 2.2 0a1.1 0.8 0 1 0 -2.2 0ZM691.1 240.0a0.9 1.3 0 1 0 1.7 0a0.9 1.3 0 1 0 -1.7 0ZM691.3 235.7a1.7 0.5 0 1 0 3.5 0a1.7 0.5 0 1 0 -3.5 0ZM700.4 247.6a0.9 0.7 0 1 0 1.7 0a0.9 0.7 0 1 0 -1.7 0ZM435.4 339.3a3.5 0.8 0 1 0 6.9 0a3.5 0.8 0 1 0 -6.9 0ZM464.5 331.9a1.5 0.9 0 1 0 3.0 0a1.5 0.9 0 1 0 -3.0 0ZM467.3 329.3a1.7 0.5 0 1 0 3.5 0a1.7 0.5 0 1 0 -3.5 0ZM441.9 327.1a0.7 1.7 0 1 0 1.3 0a0.7 1.7 0 1 0 -1.3 0ZM402.0 305.4a4.3 1.1 0 1 0 8.7 0a4.3 1.1 0 1 0 -8.7 0ZM408.3 301.5a2.0 2.0 0 1 0 3.9 0a2.0 2.0 0 1 0 -3.9 0ZM415.5 306.5a1.3 1.5 0 1 0 2.6 0a1.3 1.5 0 1 0 -2.6 0ZM419.8 309.3a1.7 0.7 0 1 0 3.5 0a1.7 0.7 0 1 0 -3.5 0ZM423.7 311.1a1.7 0.7 0 1 0 3.5 0a1.7 0.7 0 1 0 -3.5 0ZM426.3 314.1a1.3 0.7 0 1 0 2.6 0a1.3 0.7 0 1 0 -2.6 0ZM429.8 316.1a1.1 0.5 0 1 0 2.2 0a1.1 0.5 0 1 0 -2.2 0ZM348.9 312.8a3.3 1.1 0 1 0 6.5 0a3.3 1.1 0 1 0 -6.5 0ZM338.3 311.9a4.1 0.7 0 1 0 8.2 0a4.1 0.7 0 1 0 -8.2 0ZM332.9 311.9a2.6 0.8 0 1 0 5.2 0a2.6 0.8 0 1 0 -5.2 0ZM331.6 311.9a0.7 0.7 0 1 0 1.3 0a0.7 0.7 0 1 0 -1.3 0ZM328.5 311.5a1.1 0.7 0 1 0 2.2 0a1.1 0.7 0 1 0 -2.2 0ZM338.3 314.5a2.0 0.8 0 1 0 3.9 0a2.0 0.8 0 1 0 -3.9 0ZM356.3 291.3a1.1 2.8 0 1 0 2.2 0a1.1 2.8 0 1 0 -2.2 0ZM357.8 300.0a3.0 0.8 0 1 0 6.1 0a3.0 0.8 0 1 0 -6.1 0ZM353.2 300.6a1.3 0.9 0 1 0 2.6 0a1.3 0.9 0 1 0 -2.6 0ZM370.6 306.7a0.9 1.5 0 1 0 1.7 0a0.9 1.5 0 1 0 -1.7 0ZM364.3 309.8a0.9 1.1 0 1 0 1.7 0a0.9 1.1 0 1 0 -1.7 0ZM308.8 298.0a1.3 1.3 0 1 0 2.6 0a1.3 1.3 0 1 0 -2.6 0ZM313.3 299.5a0.9 0.7 0 1 0 1.7 0a0.9 0.7 0 1 0 -1.7 0ZM195.4 266.1a1.5 0.5 0 1 0 3.0 0a1.5 0.5 0 1 0 -3.0 0ZM199.7 339.1a0.7 0.5 0 1 0 1.3 0a0.7 0.5 0 1 0 -1.3 0ZM204.3 337.3a0.7 0.5 0 1 0 1.3 0a0.7 0.5 0 1 0 -1.3 0ZM229.0 400.3a1.7 0.8 0 1 0 3.5 0a1.7 0.8 0 1 0 -3.5 0ZM131.4 216.8a2.8 0.5 0 1 0 5.6 0a2.8 0.5 0 1 0 -5.6 0ZM150.0 217.2a2.0 0.5 0 1 0 3.9 0a2.0 0.5 0 1 0 -3.9 0ZM107.5 211.8a2.8 1.1 0 1 0 5.6 0a2.8 1.1 0 1 0 -5.6 0ZM98.3 206.2a1.2 2.1 0 1 0 2.4 0a1.2 2.1 0 1 0 -2.4 0ZM99.0 201.8a0.8 1.3 0 1 0 1.5 0a0.8 1.3 0 1 0 -1.5 0ZM85.2 207.3a1.1 0.5 0 1 0 2.2 0a1.1 0.5 0 1 0 -2.2 0ZM825.8 232.4a1.1 0.5 0 1 0 2.2 0a1.1 0.5 0 1 0 -2.2 0ZM823.9 231.8a0.8 0.5 0 1 0 1.5 0a0.8 0.5 0 1 0 -1.5 0ZM830.1 231.1a0.7 1.1 0 1 0 1.3 0a0.7 1.1 0 1 0 -1.3 0ZM821.4 230.9a0.5 0.5 0 1 0 1.0 0a0.5 0.5 0 1 0 -1.0 0ZM798.0 209.4a0.9 0.5 0 1 0 1.7 0a0.9 0.5 0 1 0 -1.7 0ZM804.5 211.2a0.9 0.5 0 1 0 1.7 0a0.9 0.5 0 1 0 -1.7 0ZM662.1 294.6a0.9 1.3 0 1 0 1.7 0a0.9 1.3 0 1 0 -1.7 0ZM664.4 294.6a0.5 0.5 0 1 0 1.0 0a0.5 0.5 0 1 0 -1.0 0ZM729.7 405.5a2.0 0.8 0 1 0 3.9 0a2.0 0.8 0 1 0 -3.9 0ZM733.0 405.5a1.3 0.7 0 1 0 2.6 0a1.3 0.7 0 1 0 -2.6 0ZM778.7 411.2a2.2 0.5 0 1 0 4.3 0a2.2 0.5 0 1 0 -4.3 0ZM760.9 424.9a1.1 0.5 0 1 0 2.2 0a1.1 0.5 0 1 0 -2.2 0ZM535.8 331.5a0.7 0.5 0 1 0 1.3 0a0.7 0.5 0 1 0 -1.3 0ZM486.2 323.0a1.1 0.5 0 1 0 2.2 0a1.1 0.5 0 1 0 -2.2 0ZM477.2 388.6a0.8 0.5 0 1 0 1.5 0a0.8 0.5 0 1 0 -1.5 0ZM346.0 240.3a0.5 0.5 0 1 0 1.0 0a0.5 0.5 0 1 0 -1.0 0ZM280.7 266.8a0.5 2.0 0 1 0 1.0 0a0.5 2.0 0 1 0 -1.0 0ZM290.6 290.9a0.7 1.1 0 1 0 1.3 0a0.7 1.1 0 1 0 -1.3 0ZM294.2 296.5a0.5 1.1 0 1 0 1.1 0a0.5 1.1 0 1 0 -1.1 0ZM722.1 192.5a2.0 0.5 0 1 0 3.9 0a2.0 0.5 0 1 0 -3.9 0ZM721.3 185.8a2.8 0.5 0 1 0 5.6 0a2.8 0.5 0 1 0 -5.6 0ZM685.9 178.2a1.3 0.5 0 1 0 2.6 0a1.3 0.5 0 1 0 -2.6 0ZM687.4 171.0a0.9 1.1 0 1 0 1.7 0a0.9 1.1 0 1 0 -1.7 0ZM685.7 158.2a1.5 0.8 0 1 0 3.0 0a1.5 0.8 0 1 0 -3.0 0ZM682.2 157.3a0.7 0.7 0 1 0 1.3 0a0.7 0.7 0 1 0 -1.3 0ZM696.8 145.6a1.3 1.1 0 1 0 2.6 0a1.3 1.1 0 1 0 -2.6 0ZM692.8 146.0a0.9 0.7 0 1 0 1.7 0a0.9 0.7 0 1 0 -1.7 0ZM814.5 131.9a1.7 0.7 0 1 0 3.5 0a1.7 0.7 0 1 0 -3.5 0ZM841.4 139.1a0.9 0.5 0 1 0 1.7 0a0.9 0.5 0 1 0 -1.7 0ZM844.9 158.6a0.9 0.7 0 1 0 1.7 0a0.9 0.7 0 1 0 -1.7 0ZM857.2 162.3a0.7 1.0 0 1 0 1.3 0a0.7 1.0 0 1 0 -1.3 0ZM853.4 165.1a0.8 0.5 0 1 0 1.5 0a0.8 0.5 0 1 0 -1.5 0ZM846.2 168.8a0.9 0.7 0 1 0 1.7 0a0.9 0.7 0 1 0 -1.7 0ZM844.4 167.7a0.7 1.1 0 1 0 1.3 0a0.7 1.1 0 1 0 -1.3 0ZM128.1 166.4a1.3 0.7 0 1 0 2.6 0a1.3 0.7 0 1 0 -2.6 0ZM119.3 168.4a0.9 1.1 0 1 0 1.7 0a0.9 1.1 0 1 0 -1.7 0ZM115.7 169.9a0.5 1.1 0 1 0 1.0 0a0.5 1.1 0 1 0 -1.0 0ZM103.6 172.9a2.0 0.8 0 1 0 3.9 0a2.0 0.8 0 1 0 -3.9 0ZM101.6 173.2a1.0 0.7 0 1 0 2.0 0a1.0 0.7 0 1 0 -2.0 0ZM111.8 173.6a0.5 0.5 0 1 0 1.0 0a0.5 0.5 0 1 0 -1.0 0ZM208.4 141.2a1.7 0.7 0 1 0 3.5 0a1.7 0.7 0 1 0 -3.5 0ZM185.4 143.2a2.0 0.7 0 1 0 3.9 0a2.0 0.7 0 1 0 -3.9 0ZM376.0 371.0a1.5 0.5 0 1 0 3.0 0a1.5 0.5 0 1 0 -3.0 0ZM400.4 380.1a0.5 0.7 0 1 0 1.1 0a0.5 0.7 0 1 0 -1.1 0ZM391.8 379.9a0.5 0.7 0 1 0 1.0 0a0.5 0.7 0 1 0 -1.0 0ZM375.7 323.7a0.8 0.5 0 1 0 1.5 0a0.8 0.5 0 1 0 -1.5 0ZM362.4 318.4a1.1 0.5 0 1 0 2.2 0a1.1 0.5 0 1 0 -2.2 0ZM382.0 329.3a0.5 0.5 0 1 0 1.1 0a0.5 0.5 0 1 0 -1.1 0ZM443.7 395.3a0.7 0.5 0 1 0 1.3 0a0.7 0.5 0 1 0 -1.3 0ZM322.9 308.5a1.5 0.5 0 1 0 3.0 0a1.5 0.5 0 1 0 -3.0 0ZM340.0 267.2a0.7 0.5 0 1 0 1.3 0a0.7 0.5 0 1 0 -1.3 0ZM347.6 272.0a0.9 0.5 0 1 0 1.7 0a0.9 0.5 0 1 0 -1.7 0ZM343.7 279.1a0.7 0.5 0 1 0 1.3 0a0.7 0.5 0 1 0 -1.3 0ZM341.7 280.4a0.5 0.5 0 1 0 1.0 0a0.5 0.5 0 1 0 -1.0 0ZM76.2 448.7L85.6 446.8L93.3 445.6L108.9 445.3L121.4 445.9L130.7 446.4L140.0 444.8L150.9 444.0L153.3 441.7L157.2 443.3L163.4 444.8L166.5 442.5L175.8 440.2L188.3 439.1L189.8 437.0L194.5 435.8L200.7 436.3L207.0 439.1L217.9 440.2L229.5 439.7L230.8 444.8L234.7 445.6L242.5 444.8L250.2 440.9L258.0 438.6L268.9 437.5L281.4 437.0L295.4 437.0L303.2 436.0L310.9 436.6L317.2 437.8L324.9 436.0L332.7 437.0L338.9 437.8L348.3 437.4L357.6 437.0L360.7 438.6L363.9 436.6L373.2 436.3L380.0 437.4L389.3 438.9L398.7 441.2L408.0 442.3L418.9 443.3L429.8 445.1L431.4 446.7L442.3 446.7L450.0 448.2L450.8 449.8L445.4 452.1L439.1 454.5L433.7 456.8L432.9 459.9L436.0 462.3L439.1 463.0L432.9 463.5L427.5 464.6L426.7 466.9L429.8 469.7L439.1 471.9L454.7 473.9L470.3 476.0L485.8 477.0L498.3 477.8L507.6 478.6L520.1 478.9L535.6 478.6L544.2 477.8L541.9 476.3L535.6 475.8L529.4 474.4L527.1 471.6L531.0 469.7L538.8 468.5L545.0 468.2L538.8 466.1L529.4 464.1L520.1 462.6L517.0 460.7L523.2 460.4L532.5 461.5L541.9 459.9L543.4 458.4L551.2 457.6L560.0 456.5L569.3 455.3L575.6 457.3L583.3 458.4L588.0 455.7L592.7 452.6L597.4 453.4L605.1 454.2L606.7 455.7L614.5 456.5L622.3 454.2L625.4 455.7L633.2 454.9L640.9 451.8L644.0 449.5L651.8 450.0L653.4 451.8L661.2 450.7L672.1 451.1L684.5 451.5L692.3 450.3L694.9 449.5L695.7 447.2L698.8 444.8L703.5 445.3L705.8 443.3L708.9 444.8L712.0 447.2L715.1 449.5L712.8 451.8L707.4 453.1L701.1 452.6L696.5 451.1L701.1 450.3L707.4 451.1L711.2 448.7L708.9 446.4L711.2 442.5L715.1 438.6L719.8 435.5L726.0 433.2L733.8 431.3L741.6 430.4L738.5 432.4L730.7 433.9L724.5 436.0L719.8 438.6L719.0 441.7L723.7 443.3L727.6 446.4L729.9 450.3L729.9 453.4L726.8 456.5L721.4 458.8L715.1 460.4L732.3 461.2L744.7 462.7L757.2 464.0L769.6 464.3L778.9 463.5L788.3 461.2L799.2 458.4L810.1 455.3L821.0 452.6L831.9 450.3L835.0 448.4L841.2 449.0L845.9 447.5L850.5 447.9L855.2 446.4L863.0 448.2M441.5 461.0L448.5 461.0M728.4 428.5L736.1 428.0M505.2 465.7a4 1.7 0 1 0 8 0a4 1.7 0 1 0 -8 0Z"/>
</defs>

<g transform="translate(0,0.0)">
<g clip-path="url(#mc)">
<rect x="78.0" y="95.8" width="784.70" height="394.90" fill="#FFCFB8"/>
<path d="M76.4 215.7C78.5 215.2 84.9 214.1 89.1 212.8C93.4 211.6 97.1 210.2 101.9 208.1C106.7 205.9 112.5 202.6 117.9 200.1C123.2 197.5 128.0 194.9 133.8 192.7C139.7 190.6 146.0 188.8 153.0 187.3C159.9 185.9 165.2 185.0 175.3 184.1C185.4 183.2 199.2 182.2 213.6 181.9C227.9 181.6 248.2 182.0 261.4 182.5C274.7 183.1 284.8 184.8 293.4 185.1C301.9 185.4 304.5 185.1 312.5 184.4C320.5 183.8 331.1 182.7 341.2 180.9C351.3 179.1 362.5 176.3 373.1 173.6C383.8 170.9 395.5 167.7 405.0 165.0C414.6 162.2 423.1 159.7 430.6 157.0C438.0 154.3 445.2 151.4 449.7 149.0C454.2 146.6 456.4 145.0 457.7 142.6C459.0 140.3 458.7 137.9 457.7 134.7C456.6 131.5 454.0 127.0 451.3 123.5C448.6 120.0 444.1 116.9 441.7 113.9C439.3 111.0 436.9 107.9 436.9 106.0C436.9 104.0 437.5 103.4 441.7 102.1C446.0 100.8 456.1 99.4 462.5 98.3C468.9 97.2 477.1 96.2 480.0 95.7L470 94.8L774 94.8L774.4 96.5C774.1 98.0 774.4 103.1 772.8 105.5C771.1 108.0 766.0 109.2 764.6 111.2C763.2 113.3 763.8 115.3 764.6 117.8C765.4 120.2 767.9 123.6 769.5 126.0C771.1 128.3 771.9 130.0 774.4 131.7C776.8 133.3 780.1 134.7 784.2 135.8C788.3 136.8 793.7 137.5 798.9 138.2C804.1 138.9 809.8 139.3 815.3 139.8C820.7 140.4 826.1 140.7 831.6 141.5C837.0 142.3 843.9 143.7 847.9 144.7C852.0 145.8 854.3 146.9 856.1 148.0C857.9 149.1 858.7 150.1 858.6 151.3C858.4 152.5 857.1 154.0 855.3 155.4C853.5 156.7 850.5 158.4 847.9 159.5C845.4 160.5 843.9 160.7 839.8 161.9C835.7 163.1 828.9 165.3 823.4 166.8C818.0 168.3 812.5 169.5 807.1 170.9C801.6 172.3 796.2 173.6 790.7 175.0C785.3 176.3 779.8 177.7 774.4 179.1C769.0 180.4 763.5 181.9 758.1 183.2C752.6 184.4 747.2 185.6 741.7 186.4C736.3 187.2 730.8 187.6 725.4 188.1C719.9 188.5 714.5 189.1 709.0 189.4C703.6 189.6 698.1 189.9 692.7 189.7C687.2 189.5 681.8 188.6 676.3 188.1C670.9 187.5 662.7 186.7 660.0 186.4L651.4 185.7C646.1 185.2 629.1 182.5 619.5 182.5C610.0 182.5 603.1 184.9 594.0 185.7C585.0 186.5 577.0 186.5 565.3 187.3C553.6 188.1 536.0 188.9 523.8 190.5C511.6 192.1 500.9 194.5 491.9 196.9C482.9 199.3 474.5 203.1 469.6 204.9C464.7 206.6 465.0 205.6 462.5 207.4C460.0 209.3 456.1 213.3 454.5 216.0C452.9 218.8 452.4 221.1 452.9 224.0C453.4 226.9 455.0 230.9 457.7 233.6C460.3 236.2 465.3 237.8 468.9 240.0C472.4 242.1 472.6 243.2 479.1 246.3C485.6 249.5 497.8 254.9 507.9 259.1C518.0 263.4 529.1 268.4 539.8 271.9C550.4 275.3 561.0 278.0 571.7 279.9C582.3 281.7 593.0 282.8 603.6 283.0C614.2 283.3 626.1 282.3 635.5 281.4C644.9 280.6 653.2 279.0 660.0 278.1C666.8 277.1 671.8 276.3 676.3 275.6C680.8 274.9 683.4 273.8 687.0 274.0C690.5 274.2 695.0 275.4 697.6 276.7C700.2 278.1 699.8 281.1 702.5 282.1C705.2 283.2 710.1 282.6 713.9 283.3C717.7 284.0 721.6 285.8 725.4 286.2C729.2 286.7 732.9 285.5 736.8 285.9C740.8 286.3 746.9 287.8 749.1 288.7C751.2 289.5 751.3 290.0 749.6 291.1C747.8 292.2 742.5 294.1 738.4 295.2C734.4 296.3 729.5 296.7 725.4 297.7C721.3 298.6 718.0 299.7 713.9 300.9C709.8 302.2 705.8 303.8 700.9 305.0C696.0 306.2 690.0 307.5 684.5 308.3C679.1 309.1 679.0 309.6 668.2 309.9C657.3 310.2 635.6 310.1 619.5 310.2C603.5 310.2 585.0 309.6 571.7 310.2C558.4 310.7 550.4 311.5 539.8 313.4C529.1 315.2 516.4 318.1 507.9 321.3C499.4 324.5 493.2 328.5 488.7 332.5C484.2 336.5 481.5 340.5 480.7 345.3C479.9 350.1 485.3 357.0 483.9 361.2C482.6 365.5 476.8 368.7 472.8 370.8C468.8 372.9 463.3 372.9 460.0 374.0C456.7 375.0 459.4 376.5 452.9 377.2C446.4 377.9 431.6 377.9 421.0 378.1C410.4 378.4 399.7 378.9 389.1 378.8C378.4 378.6 367.8 377.7 357.2 377.2C346.5 376.6 335.9 376.1 325.3 375.6C314.6 375.0 304.0 374.5 293.4 374.0C282.7 373.5 272.1 372.7 261.4 372.4C250.8 372.1 240.2 372.3 229.5 372.4C218.9 372.5 208.3 373.0 197.6 373.0C187.0 373.0 176.4 372.8 165.7 372.4C155.1 372.0 142.9 371.6 133.8 370.8C124.8 370.0 117.9 368.8 111.5 367.6C105.1 366.4 101.4 365.0 95.5 363.8C89.7 362.5 79.6 360.6 76.4 359.9Z" fill="#FFAD8A"/>
<path d="M864.3 214.6C861.6 215.7 852.3 218.7 847.9 220.9C843.6 223.0 841.1 225.5 838.1 227.4C835.1 229.3 832.4 230.7 830.0 232.3C827.5 233.9 824.9 235.3 823.4 237.2C821.9 239.1 821.1 241.6 821.0 243.7C820.8 245.9 821.8 248.1 822.6 250.3C823.4 252.5 824.5 254.5 825.9 256.8C827.2 259.1 828.7 261.8 830.8 264.2C832.9 266.6 837.4 269.1 838.5 271.2C839.6 273.2 838.5 274.9 837.3 276.4C836.2 278.0 834.5 279.1 831.6 280.5C828.7 281.9 824.2 283.5 820.2 284.6C816.1 285.7 811.2 286.4 807.1 287.0C803.0 287.7 798.8 288.0 795.6 288.7C792.5 289.4 789.4 290.2 788.3 291.1C787.2 292.1 787.9 293.0 789.1 294.4C790.3 295.8 793.2 297.4 795.6 299.3C798.1 301.2 801.4 303.7 803.8 305.8C806.3 308.0 808.0 308.8 810.4 312.4C812.7 315.9 816.0 323.2 818.0 327.2C820.0 331.1 820.2 333.1 822.4 336.1C824.7 339.1 827.9 342.3 831.4 345.0C834.8 347.7 838.0 349.7 843.2 352.4C848.4 355.2 859.4 359.9 862.6 361.4Z" fill="#FFAD8A"/>
<path d="M100.9 234.3C100.9 232.8 105.7 230.7 108.6 228.7C111.5 226.7 115.0 224.4 118.3 222.2C121.5 220.0 124.7 217.6 127.9 215.5C131.1 213.3 134.3 211.1 137.6 209.4C140.8 207.7 143.2 206.6 147.2 205.3C151.2 204.0 156.4 202.7 161.7 201.5C166.9 200.2 172.9 198.8 178.6 197.8C184.2 196.9 189.4 196.2 195.5 195.7C201.5 195.1 208.3 194.5 214.8 194.5C221.2 194.4 228.4 194.7 234.1 195.4C239.7 196.2 243.7 197.8 248.5 199.0C253.4 200.3 258.2 201.6 263.0 202.9C267.8 204.2 272.7 205.9 277.5 207.0C282.3 208.1 286.3 208.7 292.0 209.4C297.6 210.1 304.8 210.8 311.3 211.4C317.7 211.9 324.9 212.2 330.6 212.6C336.2 212.9 341.0 212.6 345.0 213.5C349.1 214.4 352.1 216.1 354.7 217.9C357.3 219.6 360.7 221.9 360.7 223.9C360.7 225.9 357.3 228.1 354.7 229.9C352.1 231.7 349.1 232.9 345.0 234.8C341.0 236.6 336.2 239.0 330.6 240.8C324.9 242.6 318.5 244.2 311.3 245.6C304.0 247.0 295.2 248.2 287.1 249.2C279.1 250.2 271.0 251.2 263.0 251.6C255.0 252.1 246.9 252.2 238.9 252.1C230.8 252.0 222.8 251.6 214.8 251.2C206.7 250.7 198.7 250.0 190.6 249.2C182.6 248.5 174.5 247.7 166.5 246.8C158.5 245.9 149.6 244.7 142.4 243.7C135.1 242.7 128.7 241.8 123.1 240.8C117.4 239.8 112.3 238.7 108.6 237.6C104.9 236.6 100.9 235.8 100.9 234.3Z" fill="#FF7842"/>
<path d="M283.1 354.2C284.7 352.4 292.7 349.5 299.7 347.8C306.8 346.1 316.8 344.5 325.3 344.0C333.8 343.5 342.8 344.0 350.8 344.6C358.8 345.3 368.0 346.5 373.1 347.8C378.2 349.1 382.0 350.6 381.4 352.3C380.9 354.0 375.0 356.4 369.9 358.0C364.8 359.6 358.2 360.8 350.8 361.9C343.3 362.9 333.2 364.4 325.3 364.4C317.3 364.4 308.8 362.8 302.9 361.9C297.1 360.9 293.5 359.9 290.2 358.7C286.9 357.4 281.6 356.0 283.1 354.2Z" fill="#FF7842"/>
<path d="M681.2 151.8C682.3 150.5 688.1 148.6 692.7 148.0C697.3 147.4 703.6 147.5 709.0 148.0C714.5 148.6 719.9 149.8 725.4 151.3C730.8 152.8 736.8 155.2 741.7 157.0C746.6 158.8 752.0 160.8 754.8 161.9C757.6 163.1 759.2 163.2 758.4 163.9C757.6 164.6 753.2 165.5 749.9 166.2C746.6 166.8 742.5 167.4 738.4 167.6C734.4 167.9 730.3 168.0 725.4 167.6C720.5 167.2 713.9 166.4 709.0 165.2C704.1 163.9 699.8 161.9 696.0 160.3C692.1 158.7 688.6 157.1 686.1 155.7C683.7 154.3 680.2 153.1 681.2 151.8Z" fill="#FF7842"/>
<path d="M104.9 293.0C104.3 290.7 104.8 288.6 106.4 287.0C108.0 285.5 110.8 284.5 114.6 283.8C118.4 283.0 125.0 282.5 129.5 282.6C133.9 282.6 138.8 282.8 141.4 284.1C144.0 285.3 144.3 287.9 145.1 290.0C145.8 292.1 146.7 295.0 145.8 296.7C144.9 298.4 142.6 299.3 139.9 300.4C137.1 301.5 132.9 302.9 129.5 303.4C126.0 303.8 122.3 303.6 119.1 303.1C115.8 302.6 112.5 302.1 110.1 300.4C107.8 298.7 105.6 295.2 104.9 293.0Z" fill="#FFCFB8"/>
<path d="M722.9 214.3C723.7 212.9 725.5 210.5 728.6 208.6C731.8 206.7 736.8 204.8 741.7 202.9C746.6 201.0 752.6 198.9 758.1 197.2C763.5 195.4 769.0 193.8 774.4 192.3C779.8 190.8 785.3 189.3 790.7 188.2C796.2 187.0 801.6 185.9 807.1 185.2C812.5 184.5 818.0 184.1 823.4 184.1C828.9 184.0 835.7 184.3 839.8 184.9C843.9 185.5 846.4 186.8 847.9 187.8C849.5 188.9 850.4 190.0 849.1 191.4C847.7 192.9 844.0 194.4 839.8 196.3C835.5 198.2 828.9 200.7 823.4 202.9C818.0 205.1 812.5 207.2 807.1 209.4C801.6 211.7 796.2 214.1 790.7 216.3C785.3 218.5 779.8 221.0 774.4 222.5C769.0 223.9 763.5 224.7 758.1 224.9C752.6 225.2 746.6 224.6 741.7 223.8C736.8 223.0 731.6 221.1 728.6 220.0C725.7 218.9 725.0 218.2 724.1 217.3C723.1 216.3 722.2 215.8 722.9 214.3Z" fill="#FFEDDB"/>
<path d="M561.5 356.4C562.0 353.4 564.7 349.8 570.1 347.8C575.5 345.8 585.8 344.6 594.0 344.6C602.3 344.6 611.0 345.3 619.5 347.8C628.0 350.3 637.1 355.3 645.1 359.6C653.0 364.0 661.9 369.7 667.4 374.0C672.9 378.2 677.9 382.4 677.9 385.1C677.9 387.9 673.9 389.5 667.4 390.6C660.9 391.6 648.3 391.9 638.7 391.5C629.1 391.2 619.0 390.7 610.0 388.3C600.9 385.9 591.6 380.9 584.4 377.2C577.3 373.5 570.7 369.5 566.9 366.0C563.1 362.5 560.9 359.5 561.5 356.4Z" fill="#FFEDDB"/>
<path d="M77.0 376.7L81.0 377.6L85.0 378.7L89.0 380.0L93.0 381.4L97.0 383.0L101.0 384.6L105.0 386.2L109.0 387.9L113.0 389.6L117.0 391.1L121.0 392.6L125.0 394.0L129.0 395.2L133.0 396.2L137.0 397.1L141.0 397.9L145.0 398.6L149.0 399.2L153.0 399.8L157.0 400.3L161.0 400.7L165.0 401.1L169.0 401.5L173.0 402.0L177.0 402.4L181.0 402.9L185.0 403.4L189.0 403.9L193.0 404.5L197.0 405.1L201.0 405.7L205.0 406.4L209.0 407.1L213.0 407.7L217.0 408.4L221.0 409.2L225.0 409.9L229.0 410.6L233.0 411.3L237.0 412.0L241.0 412.7L245.0 413.4L249.0 414.1L253.0 414.7L257.0 415.3L261.0 415.9L265.0 416.5L269.0 417.1L273.0 417.6L277.0 418.1L281.0 418.6L285.0 419.1L289.0 419.6L293.0 420.1L297.0 420.5L301.0 421.0L305.0 421.4L309.0 421.9L313.0 422.3L317.0 422.8L321.0 423.2L325.0 423.6L329.0 424.1L333.0 424.5L337.0 425.0L341.0 425.4L345.0 425.9L349.0 426.3L353.0 426.8L357.0 427.2L361.0 427.6L365.0 428.1L369.0 428.5L373.0 428.9L377.0 429.4L381.0 429.8L385.0 430.2L389.0 430.6L393.0 431.0L397.0 431.4L401.0 431.8L405.0 432.2L409.0 432.6L413.0 432.9L417.0 433.3L421.0 433.6L425.0 434.0L429.0 434.3L433.0 434.6L437.0 434.9L441.0 435.2L445.0 435.4L449.0 435.7L453.0 435.9L457.0 436.1L461.0 436.4L465.0 436.5L469.0 436.7L473.0 436.9L477.0 437.0L481.0 437.1L485.0 437.2L489.0 437.3L493.0 437.3L497.0 437.4L501.0 437.4L505.0 437.4L509.0 437.3L513.0 437.3L517.0 437.2L521.0 437.1L525.0 436.9L529.0 436.8L533.0 436.6L537.0 436.4L541.0 436.1L545.0 435.8L549.0 435.5L553.0 435.2L557.0 434.9L561.0 434.5L565.0 434.0L569.0 433.6L573.0 433.1L577.0 432.6L581.0 432.1L585.0 431.6L589.0 431.1L593.0 430.6L597.0 430.0L601.0 429.5L605.0 429.0L609.0 428.5L613.0 428.0L617.0 427.5L621.0 427.0L625.0 426.6L629.0 426.2L633.0 425.8L637.0 425.4L641.0 425.1L645.0 424.7L649.0 424.3L653.0 423.9L657.0 423.4L661.0 422.9L665.0 422.3L669.0 421.6L673.0 420.8L677.0 419.8L681.0 418.7L685.0 417.5L689.0 416.1L693.0 414.4L697.0 411.8L701.0 407.6L705.0 401.0L709.0 395.0L713.0 393.4L717.0 394.0L721.0 394.1L725.0 393.8L729.0 392.9L733.0 391.6L737.0 389.9L741.0 387.8L745.0 385.4L749.0 382.8L753.0 380.0L757.0 377.2L761.0 374.5L765.0 371.9L769.0 369.7L773.0 367.9L777.0 366.7L781.0 365.9L785.0 365.4L789.0 365.1L793.0 365.0L797.0 365.0L801.0 365.2L805.0 365.4L809.0 365.8L813.0 366.3L817.0 366.9L821.0 367.6L825.0 368.3L829.0 369.1L833.0 370.0L837.0 370.9L841.0 371.9L845.0 372.9L849.0 373.9L853.0 375.0L857.0 376.0L861.0 377.0L865.0 377.9L863.7 491.7L77.0 491.7Z" fill="#FFEDDB"/>
<path d="M77.0 424.5L85.0 424.0L93.0 423.5L101.0 423.2L109.0 422.9L117.0 422.7L125.0 422.6L133.0 422.5L141.0 422.6L149.0 422.7L157.0 422.8L165.0 423.0L173.0 423.3L181.0 423.6L189.0 424.0L197.0 424.4L205.0 424.9L213.0 425.4L221.0 425.9L229.0 426.5L237.0 427.2L245.0 427.8L253.0 428.5L261.0 429.3L269.0 430.0L277.0 430.8L285.0 431.6L293.0 432.5L301.0 433.3L309.0 434.2L317.0 435.0L325.0 435.9L333.0 436.8L341.0 437.7L349.0 438.6L357.0 439.5L365.0 440.3L373.0 441.2L381.0 442.0L389.0 442.8L397.0 443.6L405.0 444.4L413.0 445.1L421.0 445.8L429.0 446.4L437.0 447.0L445.0 447.5L453.0 448.0L461.0 448.4L469.0 448.7L477.0 449.0L485.0 449.2L493.0 449.3L501.0 449.3L509.0 449.2L517.0 449.1L525.0 448.9L533.0 448.6L541.0 448.2L549.0 447.8L557.0 447.3L565.0 446.8L573.0 446.2L581.0 445.5L589.0 444.9L597.0 444.1L605.0 443.4L613.0 442.6L621.0 441.8L629.0 441.0L637.0 440.1L645.0 439.3L653.0 438.4L661.0 437.6L669.0 436.7L677.0 435.8L685.0 435.0L693.0 434.1L701.0 433.3L709.0 432.5L717.0 431.7L725.0 430.9L733.0 430.2L741.0 429.5L749.0 428.8L757.0 428.1L765.0 427.5L773.0 427.0L781.0 426.4L789.0 426.0L797.0 425.6L805.0 425.2L813.0 424.9L821.0 424.6L829.0 424.4L837.0 424.3L845.0 424.2L853.0 424.2L861.0 424.3L869.0 424.4L863.7 491.7L77.0 491.7Z" fill="#D9EBFF"/>
<path d="M77.0 437.7L85.0 437.0L93.0 436.4L101.0 435.9L109.0 435.5L117.0 435.1L125.0 434.8L133.0 434.5L141.0 434.3L149.0 434.2L157.0 434.1L165.0 434.1L173.0 434.2L181.0 434.3L189.0 434.5L197.0 434.7L205.0 435.0L213.0 435.3L221.0 435.7L229.0 436.1L237.0 436.6L245.0 437.2L253.0 437.8L261.0 438.4L269.0 439.1L277.0 439.9L285.0 440.7L293.0 441.6L301.0 442.5L309.0 443.4L317.0 444.4L325.0 445.5L333.0 446.6L341.0 447.7L349.0 448.9L357.0 450.0L365.0 451.2L373.0 452.4L381.0 453.5L389.0 454.6L397.0 455.6L405.0 456.6L413.0 457.6L421.0 458.4L429.0 459.2L437.0 459.9L445.0 460.6L453.0 461.1L461.0 461.6L469.0 462.0L477.0 462.2L485.0 462.4L493.0 462.5L501.0 462.5L509.0 462.3L517.0 462.1L525.0 461.7L533.0 461.3L541.0 460.8L549.0 460.3L557.0 459.6L565.0 459.0L573.0 458.2L581.0 457.4L589.0 456.6L597.0 455.8L605.0 454.9L613.0 454.0L621.0 453.1L629.0 452.2L637.0 451.3L645.0 450.5L653.0 449.6L661.0 448.7L669.0 447.9L677.0 447.2L685.0 446.4L693.0 445.8L701.0 445.1L709.0 444.5L717.0 443.9L725.0 443.4L733.0 442.9L741.0 442.4L749.0 442.0L757.0 441.6L765.0 441.2L773.0 440.8L781.0 440.4L789.0 440.1L797.0 439.8L805.0 439.5L813.0 439.2L821.0 438.9L829.0 438.6L837.0 438.4L845.0 438.1L853.0 437.8L861.0 437.5L869.0 437.4L863.7 491.7L77.0 491.7Z" fill="#B3CFFF"/>
<path d="M77.0 451.0L85.0 449.7L93.0 448.6L101.0 447.7L109.0 447.1L117.0 446.6L125.0 446.4L133.0 446.2L141.0 446.2L149.0 446.3L157.0 446.5L165.0 446.7L173.0 447.0L181.0 447.3L189.0 447.6L197.0 447.9L205.0 448.1L213.0 448.3L221.0 448.5L229.0 448.7L237.0 448.9L245.0 449.1L253.0 449.5L261.0 449.9L269.0 450.4L277.0 451.1L285.0 452.0L293.0 453.0L301.0 454.2L309.0 455.7L317.0 457.4L325.0 459.1L333.0 460.8L341.0 462.5L349.0 464.1L357.0 465.6L365.0 466.9L373.0 468.0L381.0 469.1L389.0 470.1L397.0 471.1L405.0 472.0L413.0 472.9L421.0 473.7L429.0 474.4L437.0 475.1L445.0 475.6L453.0 476.1L461.0 476.4L469.0 476.6L477.0 476.7L485.0 476.7L493.0 476.5L501.0 476.3L509.0 475.9L517.0 475.4L525.0 474.9L533.0 474.3L541.0 473.6L549.0 472.8L557.0 472.0L565.0 471.1L573.0 470.2L581.0 469.3L589.0 468.3L597.0 467.3L605.0 466.4L613.0 465.4L621.0 464.4L629.0 463.5L637.0 462.6L645.0 461.7L653.0 460.9L661.0 460.2L669.0 459.5L677.0 458.8L685.0 458.3L693.0 457.8L701.0 457.4L709.0 457.0L717.0 456.7L725.0 456.4L733.0 456.2L741.0 456.0L749.0 455.7L757.0 455.6L765.0 455.4L773.0 455.1L781.0 454.9L789.0 454.7L797.0 454.4L805.0 454.1L813.0 453.7L821.0 453.3L829.0 452.8L837.0 452.2L845.0 451.6L853.0 450.9L861.0 450.0L869.0 449.6L863.7 491.7L77.0 491.7Z" fill="#85ABFF"/>
<use href="#coast" fill="none" stroke="#000" stroke-width="1.35" stroke-linejoin="round" stroke-linecap="round"/>
</g>
<rect x="80.0" y="97.8" width="780.70" height="390.90" fill="none" stroke="#151010" stroke-width="1.55"/>
</g>
<g transform="translate(0,492.6)">
<g clip-path="url(#mc)">
<rect x="78.0" y="95.8" width="784.70" height="394.90" fill="#FFAD8A"/>
<path d="M866.8 138.9C864.4 140.1 857.5 143.7 852.5 146.2C847.4 148.8 843.4 151.3 836.5 154.2C829.6 157.1 820.6 160.7 811.0 163.8C801.4 166.9 789.7 170.1 779.1 172.7C768.4 175.4 756.2 177.8 747.2 179.7C738.1 181.7 732.3 183.3 724.8 184.5C717.4 185.8 709.4 186.8 702.5 187.1C695.6 187.3 690.8 187.1 683.4 186.1C675.9 185.2 665.3 183.4 657.8 181.3C650.4 179.3 645.1 176.0 638.7 174.0C632.3 172.0 626.5 170.5 619.5 169.5C612.6 168.5 602.5 167.8 597.2 167.9C591.9 168.0 591.9 168.5 587.6 170.2C583.4 171.9 577.0 176.1 571.7 178.1C566.4 180.2 563.7 181.0 555.7 182.3C547.7 183.6 534.5 184.4 523.8 186.1C513.2 187.8 502.5 190.4 491.9 192.5C481.3 194.6 469.2 196.8 460.0 198.9C450.8 201.0 445.0 202.3 436.9 205.3C428.8 208.2 417.0 212.4 411.4 216.4C405.8 220.4 403.4 224.7 403.4 229.2C403.4 233.7 405.8 239.0 411.4 243.6C417.0 248.1 428.9 253.1 436.9 256.3C445.0 259.5 450.8 260.6 459.9 262.7C469.1 264.8 482.3 266.4 491.9 269.1C501.5 271.7 510.0 275.5 517.4 278.7C524.9 281.8 532.2 286.0 536.6 288.2C540.9 290.5 543.6 290.5 543.6 292.1C543.6 293.7 540.9 295.8 536.6 297.8C532.2 299.8 523.3 302.1 517.4 304.2C511.6 306.3 506.3 307.9 501.5 310.6C496.7 313.2 493.0 317.2 488.7 320.1C484.5 323.1 479.7 325.5 476.0 328.1C472.2 330.8 468.6 333.7 466.4 336.1C464.1 338.5 463.4 339.8 462.5 342.5C461.6 345.1 462.5 349.5 460.9 352.0C459.3 354.6 459.5 356.7 452.9 357.8C446.2 358.9 431.6 358.3 421.0 358.4C410.4 358.5 402.4 358.5 389.1 358.4C375.8 358.3 354.5 358.3 341.2 357.8C327.9 357.3 317.8 356.5 309.3 355.2C300.8 354.0 295.5 352.3 290.2 350.5C284.8 348.6 280.1 346.5 277.4 344.1C274.7 341.7 274.2 338.8 274.2 336.1C274.2 333.4 275.3 330.8 277.4 328.1C279.5 325.5 283.3 322.3 287.0 320.1C290.7 318.0 295.5 316.8 299.7 315.4C304.0 313.9 309.6 313.0 312.5 311.2C315.4 309.4 317.6 307.1 317.3 304.8C317.0 302.6 313.0 300.3 310.9 297.8C308.8 295.3 307.4 292.5 304.5 289.8C301.6 287.2 297.9 283.7 293.4 281.8C288.8 280.0 283.8 279.5 277.4 278.7C271.0 277.9 263.0 278.1 255.1 277.1C247.1 276.0 239.1 274.1 229.5 272.3C220.0 270.4 207.2 267.8 197.6 265.9C188.1 264.0 180.6 263.5 172.1 261.1C163.6 258.7 152.2 254.5 146.6 251.5C141.0 248.6 139.6 246.2 138.6 243.6C137.6 240.9 139.0 238.2 140.8 235.6C142.7 232.9 145.6 229.7 149.8 227.6C153.9 225.5 158.8 224.1 165.7 222.8C172.6 221.5 183.8 221.1 191.3 219.6C198.7 218.2 204.0 215.0 210.4 214.2C216.8 213.4 221.0 214.5 229.5 214.8C238.0 215.2 250.8 215.9 261.4 216.4C272.1 217.0 283.8 217.9 293.4 218.0C302.9 218.2 309.8 218.7 318.9 217.4C327.9 216.1 341.2 212.9 347.6 210.1C354.0 207.2 352.9 204.5 357.2 200.5C361.4 196.5 367.8 190.4 373.1 186.1C378.4 181.9 383.8 178.4 389.1 175.0C394.4 171.5 399.7 168.6 405.0 165.4C410.4 162.2 417.3 158.7 421.0 155.8C424.7 152.9 426.6 150.8 427.4 147.8C428.2 144.9 427.9 141.2 425.8 138.3C423.6 135.3 420.7 132.1 414.6 130.3C408.5 128.4 401.3 127.9 389.1 127.1C376.8 126.3 357.2 126.0 341.2 125.5C325.3 125.0 306.7 124.4 293.4 123.9C280.1 123.4 274.7 122.6 261.4 122.3C248.2 122.0 229.5 122.0 213.6 122.3C197.6 122.6 179.0 123.1 165.7 123.9C152.4 124.7 143.4 126.0 133.8 127.1C124.2 128.2 115.7 128.7 108.3 130.3C100.8 131.9 94.7 134.2 89.1 136.7C83.6 139.2 77.2 143.8 74.8 145.3L77.0 94.8L863.7 94.8Z" fill="#FF7842"/>
<path d="M212.0 175.9C213.6 173.8 221.3 171.8 229.5 170.2C237.8 168.6 250.8 167.0 261.4 166.3C272.1 165.6 285.4 165.6 293.4 166.0C301.3 166.4 305.3 167.2 309.3 168.6C313.3 169.9 316.8 171.6 317.3 174.0C317.8 176.4 315.4 180.1 312.5 182.9C309.6 185.8 305.6 188.7 299.7 190.9C293.9 193.1 284.8 195.5 277.4 196.3C270.0 197.1 262.0 196.9 255.1 195.7C248.2 194.5 241.8 191.4 235.9 189.3C230.1 187.2 224.0 185.2 220.0 182.9C216.0 180.7 210.4 178.0 212.0 175.9Z" fill="#FFCFB8"/>
<path d="M74.8 179.4C78.0 179.2 87.8 178.3 94.3 177.8C100.7 177.4 107.8 176.8 113.4 176.9C119.0 177.0 123.7 177.6 127.8 178.5C131.8 179.3 135.5 180.5 137.6 182.0C139.8 183.5 141.0 185.4 140.8 187.4C140.6 189.4 138.7 192.2 136.4 194.1C134.0 196.0 130.6 197.6 126.8 198.9C123.0 200.2 118.0 201.1 113.4 201.8C108.8 202.5 103.9 203.0 99.0 203.0C94.2 203.0 88.4 202.1 84.4 201.8C80.3 201.4 76.4 201.0 74.8 200.8Z" fill="#FFCFB8"/>
<path d="M74.8 216.4C78.2 216.6 91.0 216.9 95.5 217.4C100.0 217.9 103.0 218.7 101.9 219.6C100.8 220.5 93.7 222.1 89.1 222.8C84.6 223.5 77.2 223.6 74.8 223.8Z" fill="#FFCFB8"/>
<path d="M504.7 219.6C505.7 217.2 509.5 212.7 514.2 210.1C519.0 207.4 525.4 205.3 533.4 203.7C541.4 202.1 553.1 201.0 562.1 200.5C571.1 200.0 581.0 199.7 587.6 200.5C594.3 201.3 599.9 203.1 602.0 205.3C604.1 207.4 602.8 210.6 600.4 213.2C598.0 215.9 593.5 218.8 587.6 221.2C581.8 223.6 573.3 226.0 565.3 227.6C557.3 229.2 547.7 230.5 539.8 230.8C531.8 231.1 522.8 230.3 517.4 229.2C512.1 228.1 510.0 226.0 507.9 224.4C505.7 222.8 503.6 222.0 504.7 219.6Z" fill="#FFCFB8"/>
<path d="M866.8 181.7C860.2 182.0 838.9 182.6 826.9 183.6C815.0 184.6 805.7 186.0 795.0 187.7C784.4 189.5 772.7 191.7 763.1 194.1C753.6 196.5 745.6 199.4 737.6 202.1C729.6 204.7 721.9 207.1 715.3 210.1C708.6 213.0 699.3 217.2 697.7 219.6C696.1 222.0 701.7 222.6 705.7 224.4C709.7 226.3 714.7 228.6 721.6 230.8C728.6 233.0 737.6 236.1 747.2 237.8C756.7 239.5 768.4 241.0 779.1 241.0C789.7 241.0 803.0 239.0 811.0 237.8C819.0 236.6 821.6 235.7 826.9 234.0C832.3 232.3 836.2 230.0 842.9 227.6C849.5 225.2 862.8 221.0 866.8 219.6Z" fill="#FFCFB8"/>
<path d="M74.8 355.2C77.6 356.1 86.9 358.8 91.8 360.4C96.7 362.0 99.8 363.3 104.2 365.1C108.7 366.9 112.3 370.0 118.2 371.3C124.2 372.6 132.5 372.5 140.0 372.9C147.6 373.2 154.3 373.2 163.4 373.6C172.5 374.0 184.1 374.7 194.5 375.2C204.9 375.7 216.6 376.2 225.6 376.7C234.7 377.3 242.5 377.8 249.0 378.3C255.5 378.8 261.4 379.1 264.6 379.9C267.7 380.6 269.3 381.8 268.0 383.0C266.7 384.1 261.2 385.7 256.8 386.9C252.3 388.0 246.4 389.1 241.2 390.0C236.0 390.9 232.1 391.5 225.6 392.3C219.2 393.1 210.1 394.3 202.3 394.6C194.5 395.0 186.7 394.8 178.9 394.6C171.2 394.4 163.4 394.0 155.6 393.4C147.8 392.7 140.0 391.2 132.3 390.8C124.5 390.3 118.2 390.3 108.9 390.4C99.6 390.6 81.7 391.3 76.2 391.5Z" fill="#FFCFB8"/>
<path d="M76.2 414.1C81.7 414.4 98.3 415.3 108.9 415.7C119.5 416.0 129.7 416.0 140.0 416.1C150.4 416.2 162.1 416.1 171.2 416.4C180.2 416.7 186.7 417.3 194.5 418.0C202.3 418.6 210.1 419.5 217.9 420.3C225.6 421.1 239.2 422.3 241.2 422.7C243.2 423.0 228.0 422.3 230.0 422.7C232.0 423.0 245.6 424.2 253.3 425.0C261.1 425.8 268.9 426.6 276.7 427.3C284.5 428.0 292.3 428.5 300.0 429.2C307.8 429.8 315.6 430.6 323.4 431.2C331.2 431.8 338.9 432.2 346.7 432.8C354.5 433.4 362.3 434.0 370.1 434.8C377.9 435.6 388.4 436.7 393.4 437.4C398.4 438.1 396.3 438.5 400.0 439.0C403.7 439.5 410.4 440.0 415.6 440.6C420.8 441.1 425.9 441.6 431.1 442.1C436.3 442.6 441.5 443.0 446.7 443.4C451.9 443.7 457.1 444.2 462.3 444.4C467.4 444.7 472.6 444.8 477.8 444.8C483.0 444.8 488.2 444.8 493.4 444.4C498.6 444.1 503.8 443.5 508.9 442.9C514.1 442.3 519.3 441.7 524.5 441.0C529.7 440.3 534.2 439.5 540.1 438.7C546.0 437.9 552.7 437.2 560.0 436.2C567.3 435.2 576.1 433.8 584.1 432.6C592.2 431.4 600.2 430.2 608.3 429.0C616.3 427.8 623.5 426.8 632.4 425.3C641.2 423.9 653.3 422.3 661.3 420.5C669.4 418.7 676.3 416.7 680.6 414.5C685.0 412.3 687.0 409.1 687.4 407.3C687.8 405.4 686.2 404.8 683.0 403.6C679.9 402.4 675.0 401.4 668.6 400.0C662.1 398.6 652.5 396.8 644.4 395.2C636.4 393.6 628.4 392.8 620.3 390.4C612.3 388.0 603.0 384.3 596.2 380.7C589.4 377.1 583.8 372.7 579.3 368.7C574.8 364.6 570.7 359.4 569.2 356.6C567.6 353.8 569.2 353.4 570.1 351.8C571.0 350.2 571.3 348.7 574.5 346.9C577.6 345.1 583.3 342.3 589.0 340.9C594.6 339.5 601.0 338.7 608.3 338.5C615.5 338.3 624.3 338.5 632.4 339.7C640.4 340.9 649.3 343.3 656.5 345.7C663.7 348.1 670.2 351.2 675.8 354.2C681.4 357.2 686.3 361.0 690.3 363.8C694.3 366.6 696.7 369.5 699.9 371.1C703.1 372.6 705.6 372.8 709.6 373.0C713.6 373.2 719.2 372.9 724.1 372.3C728.9 371.6 733.7 369.1 738.5 369.1C743.4 369.1 748.6 371.7 753.0 372.3C757.4 372.8 761.0 373.3 765.1 372.3C769.1 371.3 773.1 368.9 777.1 366.2C781.1 363.6 785.2 359.2 789.2 356.6C793.2 354.0 797.2 352.1 801.3 350.6C805.3 349.0 809.3 347.9 813.3 347.4C817.3 346.9 821.4 347.1 825.4 347.4C829.4 347.7 833.4 348.4 837.4 349.4C841.5 350.3 845.1 351.8 849.5 353.0C853.9 354.2 861.6 356.0 864.0 356.6L863.7 491.7L77.0 491.7Z" fill="#FFCFB8"/>
<path d="M864.0 391.1C857.5 391.0 835.8 390.6 825.4 390.4C814.9 390.2 809.3 389.9 801.3 389.9C793.2 389.9 784.0 389.9 777.1 390.4C770.3 390.8 765.3 391.2 760.2 392.8C755.2 394.4 747.0 397.8 747.0 400.0C747.0 402.2 755.2 404.6 760.2 406.0C765.3 407.5 770.3 407.7 777.1 408.5C784.0 409.3 793.2 410.3 801.3 410.9C809.3 411.5 814.9 411.6 825.4 412.1C835.8 412.6 857.5 413.7 864.0 414.0Z" fill="#FFAD8A"/>
<path d="M77.0 435.9L85.0 436.3L93.0 436.7L101.0 437.0L109.0 437.3L117.0 437.6L125.0 437.8L133.0 437.9L141.0 438.1L149.0 438.2L157.0 438.3L165.0 438.4L173.0 438.4L181.0 438.5L189.0 438.6L197.0 438.7L205.0 438.7L213.0 438.8L221.0 439.0L229.0 439.1L237.0 439.3L245.0 439.5L253.0 439.7L261.0 440.0L269.0 440.3L277.0 440.7L285.0 441.1L293.0 441.6L301.0 442.2L309.0 442.8L317.0 443.5L325.0 444.4L333.0 445.5L341.0 446.7L349.0 448.2L357.0 450.0L365.0 452.1L373.0 454.5L381.0 456.9L389.0 459.1L397.0 461.1L405.0 462.6L413.0 463.7L421.0 464.5L429.0 465.0L437.0 465.3L445.0 465.5L453.0 465.6L461.0 465.5L469.0 465.4L477.0 465.2L485.0 464.9L493.0 464.6L501.0 464.1L509.0 463.6L517.0 463.1L525.0 462.5L533.0 461.8L541.0 461.1L549.0 460.3L557.0 459.5L565.0 458.7L573.0 457.8L581.0 456.9L589.0 456.0L597.0 455.0L605.0 454.0L613.0 453.1L621.0 452.1L629.0 451.0L637.0 450.0L645.0 449.0L653.0 448.0L661.0 447.0L669.0 446.1L677.0 445.1L685.0 444.1L693.0 443.2L701.0 442.3L709.0 441.5L717.0 440.7L725.0 439.9L733.0 439.1L741.0 438.5L749.0 437.8L757.0 437.2L765.0 436.7L773.0 436.3L781.0 435.9L789.0 435.6L797.0 435.3L805.0 435.2L813.0 435.1L821.0 435.1L829.0 435.2L837.0 435.4L845.0 435.7L853.0 436.1L861.0 436.7L869.0 436.9L863.7 491.7L77.0 491.7Z" fill="#FFEDDB"/>
<path d="M104.2 467.0C105.5 465.3 110.5 462.9 115.1 461.6C119.8 460.3 125.5 459.8 132.3 459.2C139.0 458.7 147.8 458.3 155.6 458.1C163.4 458.0 171.2 458.1 178.9 458.5C186.7 458.8 194.5 459.5 202.3 460.0C210.1 460.5 217.9 461.4 225.6 461.6C233.4 461.8 244.4 461.4 249.0 461.3C253.6 461.1 248.7 460.9 253.3 460.8C258.0 460.6 271.0 460.1 276.7 460.3C282.4 460.5 285.3 461.1 287.6 461.9C289.9 462.7 290.7 463.7 290.7 465.0C290.7 466.2 289.9 468.0 287.6 469.3C285.3 470.7 281.1 472.0 276.7 473.2C272.3 474.5 266.3 475.9 261.1 476.8C255.9 477.7 246.3 478.6 245.6 478.7C244.8 478.7 258.8 477.0 256.8 477.1C254.7 477.3 241.2 478.9 233.4 479.5C225.6 480.1 217.9 480.5 210.1 480.7C202.3 481.0 194.5 481.1 186.7 481.0C178.9 480.9 171.2 480.7 163.4 480.2C155.6 479.8 147.0 479.2 140.0 478.4C133.0 477.6 126.8 476.7 121.4 475.6C115.9 474.5 110.2 473.1 107.4 471.7C104.5 470.3 102.9 468.7 104.2 467.0Z" fill="#D9EBFF"/>
<use href="#coast" fill="none" stroke="#000" stroke-width="1.35" stroke-linejoin="round" stroke-linecap="round"/>
</g>
<rect x="80.0" y="97.8" width="780.70" height="390.90" fill="none" stroke="#151010" stroke-width="1.55"/>
</g>
<g transform="translate(0,985.2)">
<g clip-path="url(#mc)">
<rect x="78.0" y="95.8" width="784.70" height="394.90" fill="#85ABFF"/>
<path d="M74.8 145.8C80.1 145.6 96.9 145.0 106.2 144.8C115.4 144.6 122.3 144.3 130.3 144.8C138.4 145.3 146.4 146.3 154.4 147.7C162.5 149.1 170.5 151.3 178.6 153.0C186.6 154.7 194.6 156.6 202.7 157.8C210.7 159.1 218.8 159.9 226.8 160.5C234.9 161.1 240.9 161.4 250.9 161.5C261.0 161.5 275.1 161.3 287.1 161.0C299.2 160.7 311.3 160.2 323.3 159.8C335.4 159.4 350.1 158.4 359.5 158.6C369.0 158.7 373.2 160.1 380.0 160.5C386.8 160.9 393.5 160.9 400.2 160.9C407.0 160.9 414.1 160.4 420.5 160.5C426.9 160.6 434.3 160.5 438.7 161.5C443.1 162.5 444.4 164.4 446.8 166.6C449.1 168.8 450.5 172.0 452.8 174.7C455.2 177.4 457.2 180.6 460.9 182.8C464.6 185.0 469.7 186.7 475.1 187.8C480.5 188.9 487.2 189.4 493.3 189.4C499.4 189.4 505.1 188.8 511.5 187.8C517.9 186.9 525.7 185.3 531.8 183.8C537.8 182.3 543.9 180.6 547.9 178.7C552.0 176.9 554.4 174.5 556.0 172.6C557.7 170.8 558.7 169.1 558.1 167.6C557.4 166.1 554.7 164.7 552.0 163.5C549.3 162.4 545.3 161.5 541.9 160.5C538.5 159.5 534.8 159.0 531.8 157.5C528.7 156.0 524.0 153.6 523.7 151.4C523.3 149.2 526.7 146.3 529.7 144.3C532.8 142.3 538.5 140.4 541.9 139.3C545.3 138.1 547.3 137.2 550.0 137.2C552.7 137.2 555.4 138.2 558.1 139.3C560.8 140.3 562.1 142.0 566.2 143.3C570.2 144.7 576.3 146.2 582.3 147.4C588.4 148.5 595.8 149.6 602.6 150.4C609.3 151.2 616.6 151.8 622.8 152.0C629.1 152.2 634.4 153.1 640.0 151.4C645.6 149.7 651.7 143.9 656.5 141.7C661.3 139.4 663.7 139.5 668.6 138.1C673.4 136.6 678.6 133.8 685.5 133.2C692.3 132.6 702.3 133.8 709.6 134.4C716.8 135.0 721.6 135.6 728.9 136.8C736.1 138.1 745.0 140.5 753.0 141.7C761.0 142.9 769.1 143.7 777.1 144.1C785.2 144.5 793.2 144.0 801.3 144.1C809.3 144.2 817.3 144.6 825.4 144.8C833.4 145.0 842.7 145.1 849.5 145.3C856.3 145.4 863.6 145.7 866.4 145.8L863.7 94.8L77.0 94.8Z" fill="#427AFF"/>
<path d="M74.8 131.3C80.1 131.3 96.9 131.1 106.2 131.3C115.4 131.5 122.3 131.8 130.3 132.7C138.4 133.7 146.4 135.4 154.4 136.8C162.5 138.3 170.5 140.1 178.6 141.7C186.6 143.3 194.6 145.2 202.7 146.5C210.7 147.8 218.8 148.9 226.8 149.6C234.9 150.4 240.9 150.8 250.9 150.8C261.0 150.9 275.1 150.4 287.1 150.1C299.2 149.8 311.3 149.3 323.3 148.9C335.4 148.5 350.1 147.8 359.5 147.7C369.0 147.6 371.5 148.4 380.0 148.4C388.5 148.3 401.9 147.9 410.4 147.4C418.8 146.8 426.2 146.7 430.6 145.3C435.0 144.0 435.8 141.8 436.7 139.3C437.5 136.7 436.7 133.0 435.6 130.2C434.6 127.3 432.8 124.4 430.6 122.1C428.4 119.7 424.7 117.6 422.5 116.0C420.3 114.4 416.8 113.7 417.4 112.3C418.1 111.0 421.0 109.1 426.5 107.9C432.1 106.6 438.3 105.6 450.8 104.9C463.3 104.1 482.9 103.6 501.4 103.4C520.0 103.3 539.0 103.7 562.1 103.8C585.2 104.0 624.3 103.6 640.0 104.3C655.7 104.9 647.7 106.7 656.5 107.9C665.3 109.1 682.6 110.3 692.7 111.5C702.7 112.7 710.8 113.7 716.8 115.1C722.8 116.5 723.7 118.1 728.9 120.0C734.1 121.8 740.9 124.4 748.2 126.0C755.4 127.6 763.5 129.0 772.3 129.6C781.1 130.2 792.4 129.8 801.3 129.6C810.1 129.4 817.3 128.4 825.4 128.4C833.4 128.4 842.7 129.2 849.5 129.6C856.3 130.0 863.6 130.6 866.4 130.8L863.7 94.8L77.0 94.8Z" fill="#1A4DFF"/>
<path d="M77.3 180.1C78.7 179.3 83.0 177.0 85.8 175.2C88.6 173.4 90.9 171.2 94.3 169.1C97.8 167.1 102.4 164.6 106.5 163.0C110.5 161.5 113.6 160.7 118.6 160.0C123.7 159.4 130.8 159.2 136.9 159.2C143.0 159.2 149.1 159.6 155.1 160.0C161.2 160.4 167.5 160.7 173.4 161.8C179.3 162.9 183.7 165.3 190.6 166.5C197.5 167.7 204.7 168.2 214.8 168.9C224.8 169.6 238.9 170.4 250.9 170.6C263.0 170.8 275.1 170.1 287.1 170.1C299.2 170.1 313.3 170.1 323.3 170.6C333.4 171.1 338.0 173.0 347.4 173.0C356.9 173.0 371.2 171.0 380.0 170.6C388.8 170.3 394.8 170.5 400.2 171.0C405.6 171.5 409.0 172.0 412.4 173.7C415.7 175.3 419.0 177.9 420.5 180.7C422.0 183.6 420.5 187.5 421.5 190.9C422.5 194.2 423.7 198.3 426.5 201.0C429.4 203.7 432.9 205.9 438.7 207.0C444.4 208.2 453.9 208.4 460.9 208.1C468.0 207.7 474.4 206.2 481.2 205.0C487.9 203.8 494.7 202.3 501.4 201.0C508.2 199.6 514.9 198.4 521.6 196.9C528.4 195.4 535.1 193.7 541.9 191.9C548.6 190.0 556.0 187.8 562.1 185.8C568.2 183.8 573.9 181.4 578.3 179.7C582.7 178.0 584.4 176.6 588.4 175.7C592.5 174.8 596.8 174.4 602.6 174.3C608.3 174.1 616.6 174.4 622.8 174.7C629.1 174.9 635.6 174.5 640.0 175.7C644.4 176.8 646.7 179.3 649.3 181.5C651.8 183.6 655.3 186.3 655.3 188.7C655.3 191.1 652.3 193.7 649.3 196.0C646.2 198.2 641.2 200.4 637.2 202.0C633.2 203.6 628.4 204.2 625.1 205.6C621.9 207.0 619.9 208.0 617.9 210.4C615.9 212.8 615.5 216.9 613.1 220.1C610.7 223.3 607.4 227.3 603.4 229.7C599.4 232.1 596.2 233.1 589.0 234.6C581.7 236.0 567.8 237.7 560.0 238.2C552.2 238.6 548.5 237.6 542.3 237.4C536.1 237.1 529.4 236.0 523.0 236.6C516.6 237.2 510.1 238.9 503.7 241.0C497.3 243.1 490.8 246.4 484.4 249.4C478.0 252.4 471.5 256.1 465.1 259.1C458.7 262.0 452.2 264.8 445.8 267.0C439.4 269.3 432.5 271.1 426.5 272.4C420.5 273.6 414.0 273.8 409.6 274.8C405.2 275.8 403.2 278.1 400.0 278.4C396.7 278.7 393.9 277.9 390.3 276.7C386.7 275.5 383.1 271.1 378.3 271.1C373.4 271.1 367.0 275.7 361.4 276.7C355.7 277.7 349.7 277.8 344.5 277.2C339.2 276.5 333.5 274.1 330.0 272.8C326.5 271.5 326.4 269.9 323.3 269.5C320.2 269.0 314.9 270.2 311.3 269.9C307.6 269.7 304.0 267.6 301.6 268.0C299.2 268.4 299.2 270.8 296.8 272.4C294.4 273.9 290.7 276.2 287.1 277.2C283.5 278.2 279.9 277.8 275.1 278.4C270.2 279.0 262.4 279.4 258.2 280.8C254.0 282.2 250.1 284.6 249.7 286.8C249.3 289.0 254.0 292.1 255.8 294.1C257.6 296.1 257.4 297.7 260.6 298.9C263.8 300.1 269.8 300.3 275.1 301.3C280.3 302.3 285.9 303.9 292.0 304.9C298.0 305.9 304.8 306.6 311.3 307.3C317.7 308.0 323.4 309.6 330.6 309.0C337.7 308.4 347.0 305.0 354.1 303.7C361.3 302.4 367.8 302.6 373.4 301.3C379.1 300.0 383.1 296.0 387.9 296.0C392.7 296.0 398.4 298.8 402.4 301.3C406.4 303.8 408.8 307.3 412.0 311.0C415.2 314.6 418.1 318.8 421.7 323.0C425.3 327.2 429.3 331.9 433.7 336.3C438.2 340.7 443.4 345.5 448.2 349.6C453.0 353.6 458.5 357.6 462.7 360.4C466.9 363.2 471.5 364.6 473.5 366.4C475.6 368.2 475.8 368.9 474.8 371.3C473.7 373.7 470.7 377.7 467.5 380.9C464.3 384.1 460.3 388.2 455.5 390.6C450.6 393.0 445.4 395.0 438.6 395.4C431.7 395.8 422.5 394.0 414.4 393.0C406.4 392.0 398.4 390.4 390.3 389.4C382.3 388.4 374.2 387.6 366.2 386.9C358.1 386.3 351.2 385.6 342.1 385.7C332.9 385.9 320.4 387.9 311.3 388.1C302.1 388.2 295.2 387.2 287.1 386.9C279.1 386.5 271.0 386.2 263.0 386.1C255.0 386.0 246.9 386.0 238.9 386.1C230.8 386.2 222.8 386.2 214.8 386.6C206.7 387.0 198.7 388.0 190.6 388.5C182.6 389.1 174.5 389.7 166.5 389.7C158.5 389.8 150.4 389.7 142.4 389.0C134.3 388.3 126.3 387.0 118.3 385.6C110.2 384.3 101.4 382.3 94.1 380.8C86.9 379.3 78.0 377.2 74.8 376.5Z" fill="#B3CFFF"/>
<path d="M863.1 189.2C860.5 189.8 852.0 191.8 847.3 192.8C842.6 193.9 839.2 194.6 835.1 195.3C831.1 196.0 827.0 196.4 823.0 197.1C818.9 197.8 814.9 198.7 810.8 199.5C806.8 200.3 802.7 201.1 798.6 202.0C794.6 202.8 790.5 203.6 786.5 204.6C782.4 205.7 778.4 206.9 774.3 208.0C770.3 209.2 766.2 210.6 762.2 211.7C758.1 212.8 755.5 212.9 750.0 214.7C744.5 216.6 733.9 220.3 728.9 222.9C723.8 225.5 720.1 227.7 719.7 230.1C719.3 232.5 723.3 234.2 726.5 237.4C729.6 240.6 734.1 246.2 738.5 249.4C743.0 252.6 747.0 254.7 753.0 256.7C759.0 258.6 768.7 259.8 774.3 261.0C779.9 262.1 782.4 262.5 786.5 263.4C790.5 264.3 794.6 265.4 798.6 266.4C802.7 267.4 806.8 268.5 810.8 269.5C814.9 270.5 819.3 271.4 823.0 272.5C826.6 273.6 829.7 275.3 832.7 276.2C835.7 277.0 838.4 277.4 841.2 277.4C844.1 277.4 846.1 275.9 849.7 276.2C853.4 276.4 860.9 278.4 863.1 278.8Z" fill="#B3CFFF"/>
<path d="M863.1 299.0C861.5 298.9 856.4 298.4 853.4 298.0C850.3 297.7 847.9 297.5 844.9 296.8C841.8 296.1 838.8 294.9 835.1 293.8C831.5 292.7 827.0 291.1 823.0 290.1C818.9 289.2 814.3 288.3 810.8 288.3C807.4 288.3 804.5 288.9 802.3 290.1C800.1 291.4 798.4 293.5 797.4 295.6C796.4 297.7 797.0 300.7 796.2 302.9C795.4 305.1 793.7 307.7 792.6 309.0C791.4 310.3 791.8 308.8 789.2 311.0C786.6 313.1 780.7 318.4 777.1 321.8C773.5 325.2 769.9 328.6 767.5 331.5C765.1 334.3 762.7 336.5 762.7 338.7C762.7 340.9 763.1 342.5 767.5 344.7C771.9 346.9 781.6 349.4 789.2 352.0C796.8 354.6 805.3 357.6 813.3 360.4C821.4 363.2 828.6 365.9 837.4 368.9C846.3 371.8 861.6 376.5 866.4 378.0Z" fill="#B3CFFF"/>
<path d="M701.1 162.2C701.5 160.0 705.0 156.9 709.6 154.9C714.2 152.9 721.6 150.7 728.9 150.1C736.1 149.5 745.0 150.8 753.0 151.3C761.0 151.8 770.3 152.2 777.1 153.0C784.0 153.8 790.2 154.9 794.0 156.1C797.8 157.4 800.5 158.6 800.0 160.2C799.6 161.9 796.2 164.1 791.6 165.8C787.0 167.5 779.5 169.4 772.3 170.6C765.1 171.8 756.2 172.8 748.2 173.0C740.1 173.2 730.9 172.6 724.1 171.8C717.2 171.0 711.0 169.8 707.2 168.2C703.3 166.6 700.7 164.4 701.1 162.2Z" fill="#B3CFFF"/>
<path d="M618.6 336.7C619.0 334.7 619.2 332.0 622.7 330.6C626.2 329.2 633.2 328.7 639.6 328.2C646.0 327.7 654.5 327.5 661.3 327.7C668.2 327.9 675.0 328.3 680.6 329.4C686.3 330.5 690.7 332.6 695.1 334.3C699.5 335.9 703.9 337.7 707.2 339.1C710.4 340.5 712.4 343.6 714.4 342.7C716.4 341.8 716.8 334.4 719.2 333.8C721.6 333.2 725.3 337.2 728.9 339.1C732.5 341.0 737.5 343.4 740.9 345.1C744.4 346.8 749.0 347.4 749.4 349.5C749.8 351.5 746.0 354.5 743.4 357.2C740.7 359.9 736.9 362.8 733.7 365.6C730.5 368.4 726.9 371.7 724.1 374.1C721.2 376.5 719.2 378.5 716.8 380.1C714.4 381.7 712.4 383.7 709.6 383.7C706.8 383.7 703.9 381.1 699.9 380.1C695.9 379.1 690.7 378.7 685.5 377.7C680.2 376.7 674.2 375.7 668.6 374.1C662.9 372.5 656.9 370.6 651.7 368.0C646.4 365.4 641.4 361.6 637.2 358.4C633.0 355.2 629.2 351.3 626.3 348.7C623.5 346.1 621.6 344.7 620.3 342.7C619.0 340.7 618.2 338.7 618.6 336.7Z" fill="#B3CFFF"/>
<path d="M486.3 411.5C487.7 410.5 492.8 410.3 498.9 410.3C505.0 410.3 515.0 410.7 523.0 411.5C531.0 412.3 540.9 414.2 547.1 415.1C553.4 416.0 560.4 416.4 560.4 417.0C560.4 417.6 553.4 418.2 547.1 418.7C540.9 419.2 531.0 419.9 523.0 419.9C515.0 419.9 504.3 419.3 498.9 418.7C493.4 418.1 492.5 417.5 490.4 416.3C488.3 415.1 484.9 412.5 486.3 411.5Z" fill="#B3CFFF"/>
<path d="M77.3 279.2C80.1 279.2 88.4 279.4 94.3 279.2C100.2 279.0 107.5 278.6 112.6 278.0C117.6 277.4 120.7 276.1 124.7 275.5C128.8 275.0 132.8 274.8 136.9 274.7C140.9 274.6 145.0 274.5 149.1 275.2C153.1 275.8 157.6 277.0 161.2 278.6C164.9 280.2 168.3 282.2 170.9 284.7C173.6 287.1 176.0 290.7 177.0 293.2C178.0 295.6 177.6 297.4 177.0 299.3C176.4 301.1 175.4 302.8 173.4 304.1C171.4 305.4 168.9 306.6 164.9 307.2C160.8 307.8 154.7 307.7 149.1 307.8C143.4 307.9 136.9 307.9 130.8 307.8C124.7 307.7 117.6 307.9 112.6 307.2C107.5 306.5 104.1 304.7 100.4 303.5C96.8 302.3 94.5 300.7 90.7 299.9C86.8 299.1 79.5 298.9 77.3 298.7Z" fill="#85ABFF"/>
<path d="M209.4 294.1C209.2 292.2 210.2 289.5 212.3 288.0C214.4 286.5 218.8 285.3 222.0 285.1C225.2 284.9 229.4 285.7 231.6 286.8C233.9 288.0 235.3 290.2 235.3 292.1C235.3 294.1 233.9 296.9 231.6 298.4C229.4 299.9 225.0 301.1 222.0 301.3C219.0 301.5 215.6 300.6 213.5 299.4C211.5 298.2 209.6 296.0 209.4 294.1Z" fill="#85ABFF"/>
<path d="M524.2 357.2C524.5 354.6 525.2 350.3 527.8 347.5C530.4 344.8 534.7 342.2 539.9 340.8C545.1 339.4 553.2 338.4 559.2 339.1C565.2 339.8 570.9 342.5 576.1 345.1C581.3 347.7 585.3 351.3 590.6 354.8C595.8 358.2 603.3 362.6 607.4 365.6C611.6 368.6 612.9 370.7 615.5 372.9C618.1 375.0 621.3 376.8 623.2 378.4C625.1 380.0 627.1 381.0 627.1 382.5C627.0 384.0 625.9 386.1 622.7 387.3C619.6 388.5 614.7 389.5 608.3 389.7C601.8 389.9 584.3 388.4 584.1 388.5C584.0 388.7 607.6 390.5 607.4 390.5C607.3 390.5 591.4 389.3 583.3 388.5C575.3 387.8 566.0 387.3 559.2 386.1C552.4 384.9 546.7 383.7 542.3 381.3C537.9 378.9 535.4 374.7 532.7 371.7C529.9 368.6 527.3 365.6 525.9 363.2C524.5 360.8 523.9 359.8 524.2 357.2Z" fill="#427AFF"/>
<path d="M77.3 193.4C78.7 192.6 83.0 190.4 85.8 188.6C88.6 186.8 90.9 184.2 94.3 182.5C97.8 180.8 102.4 179.4 106.5 178.2C110.5 177.1 113.6 176.5 118.6 175.8C123.7 175.1 130.8 174.3 136.9 174.0C143.0 173.7 149.1 173.9 155.1 174.0C161.2 174.1 167.5 174.6 173.4 174.6C179.3 174.6 181.7 174.1 190.6 174.2C199.5 174.4 214.8 175.2 226.8 175.4C238.9 175.6 250.9 175.3 263.0 175.4C275.1 175.6 289.1 175.8 299.2 176.2C309.2 176.6 315.3 176.8 323.3 177.9C331.4 178.9 340.2 180.7 347.4 182.7C354.7 184.7 361.0 187.5 366.7 189.9C372.5 192.3 378.3 194.5 381.9 197.2C385.4 199.8 387.1 202.6 387.9 205.6C388.7 208.6 388.3 212.0 386.7 215.3C385.1 218.5 382.5 222.1 378.3 224.9C374.0 227.7 367.0 230.5 361.4 232.1C355.7 233.7 343.6 235.9 344.5 234.6C345.4 233.2 366.2 225.2 366.7 224.1C367.2 223.0 354.7 226.3 347.4 227.7C340.2 229.1 331.4 231.5 323.3 232.5C315.3 233.6 306.4 233.8 299.2 234.2C292.0 234.6 285.9 234.2 279.9 235.0C273.9 235.7 267.8 237.4 263.0 238.6C258.2 239.8 257.0 240.8 250.9 242.2C244.9 243.6 234.9 245.4 226.8 247.0C218.8 248.6 210.7 250.4 202.7 251.8C194.6 253.3 186.6 254.4 178.6 255.5C170.5 256.5 162.5 257.6 154.4 258.4C146.4 259.1 138.4 259.5 130.3 259.8C122.3 260.1 115.4 260.5 106.2 260.3C96.9 260.0 80.1 258.7 74.8 258.4Z" fill="#D9EBFF"/>
<path d="M518.6 216.1C518.9 214.7 521.8 212.1 525.7 210.1C529.6 208.1 535.8 206.2 541.9 204.0C547.9 201.8 555.4 199.1 562.1 196.9C568.9 194.7 575.6 192.4 582.3 190.9C589.1 189.3 597.2 188.2 602.6 187.8C608.0 187.5 613.2 187.3 614.7 188.8C616.2 190.4 613.7 193.9 611.7 196.9C609.7 200.0 606.5 203.8 602.6 207.0C598.7 210.2 593.5 213.8 588.4 216.1C583.4 218.5 578.0 220.0 572.2 221.2C566.5 222.4 560.1 223.2 554.0 223.2C547.9 223.2 540.9 222.0 535.8 221.2C530.7 220.5 526.5 219.6 523.7 218.8C520.8 217.9 518.3 217.6 518.6 216.1Z" fill="#D9EBFF"/>
<path d="M74.8 320.5C78.0 321.0 86.9 321.9 94.1 323.4C101.4 324.9 110.2 327.6 118.3 329.4C126.3 331.2 134.3 333.1 142.4 334.3C150.4 335.5 159.3 335.9 166.5 336.7C173.7 337.5 179.4 338.1 185.8 339.1C192.2 340.1 198.3 342.0 205.1 342.7C211.9 343.4 219.2 343.6 226.8 343.4C234.5 343.2 242.9 342.3 250.9 341.5C259.0 340.7 267.0 339.4 275.1 338.4C283.1 337.4 291.1 336.1 299.2 335.5C307.2 334.8 318.2 334.1 323.3 334.3C328.5 334.5 324.9 336.0 330.0 336.7C335.1 337.4 346.1 337.4 354.1 338.4C362.2 339.4 370.2 340.6 378.3 342.7C386.3 344.8 395.1 348.3 402.4 351.1C409.6 354.0 416.9 357.0 421.7 359.6C426.4 362.2 430.0 364.9 430.8 366.8C431.6 368.8 431.2 369.6 426.5 371.2C421.8 372.8 410.4 375.1 402.4 376.5C394.3 377.8 386.3 378.8 378.3 379.4C370.2 380.0 362.2 380.2 354.1 380.1C346.1 380.0 337.1 378.9 330.0 378.9C322.9 378.9 318.4 380.1 311.3 380.1C304.1 380.1 295.2 379.2 287.1 378.9C279.1 378.6 271.0 378.5 263.0 378.4C255.0 378.3 246.9 378.2 238.9 378.4C230.8 378.6 222.8 378.8 214.8 379.4C206.7 379.9 198.7 381.1 190.6 381.8C182.6 382.4 174.5 383.1 166.5 383.2C158.5 383.4 150.4 383.0 142.4 382.5C134.3 382.0 126.3 381.2 118.3 380.1C110.2 379.0 101.4 377.3 94.1 376.0C86.9 374.7 78.0 372.8 74.8 372.1Z" fill="#D9EBFF"/>
<path d="M863.1 200.1C860.5 200.5 852.0 202.0 847.3 202.6C842.6 203.2 839.2 203.5 835.1 203.8C831.1 204.1 827.0 204.1 823.0 204.4C818.9 204.7 814.9 204.9 810.8 205.4C806.8 205.9 802.7 206.4 798.6 207.4C794.6 208.5 789.9 210.2 786.5 211.7C783.0 213.2 780.2 214.7 778.0 216.6C775.7 218.4 774.1 220.8 773.1 222.6C772.1 224.5 771.7 225.7 771.9 227.5C772.1 229.3 772.7 231.6 774.3 233.6C775.9 235.6 778.6 237.9 781.6 239.7C784.7 241.4 788.7 242.8 792.6 243.9C796.4 245.0 800.7 245.7 804.7 246.4C808.8 247.0 812.8 246.9 816.9 247.6C820.9 248.3 825.0 249.5 829.1 250.6C833.1 251.7 837.2 253.1 841.2 254.3C845.3 255.4 849.7 256.5 853.4 257.3C857.0 258.1 861.5 258.8 863.1 259.1Z" fill="#D9EBFF"/>
<path d="M866.4 320.1C861.6 320.4 845.1 320.7 837.4 321.8C829.8 322.9 825.4 324.6 820.6 326.6C815.7 328.6 811.1 331.5 808.5 333.9C805.9 336.3 804.5 338.5 804.9 341.1C805.3 343.7 807.5 346.7 810.9 349.6C814.3 352.4 819.8 355.2 825.4 358.0C831.0 360.8 837.8 364.0 844.7 366.4C851.5 368.9 862.8 371.5 866.4 372.5Z" fill="#D9EBFF"/>
<path d="M77.3 204.4C78.7 203.4 83.0 200.1 85.8 198.3C88.6 196.5 90.9 195.0 94.3 193.4C97.8 191.9 102.4 190.3 106.5 189.2C110.5 188.1 113.6 187.6 118.6 186.8C123.7 185.9 130.8 184.9 136.9 184.3C143.0 183.7 149.1 183.4 155.1 183.1C161.2 182.8 167.5 183.3 173.4 182.7C179.3 182.2 181.7 180.4 190.6 179.5C199.5 178.7 214.8 178.3 226.8 177.9C238.9 177.5 250.9 176.9 263.0 177.1C275.1 177.3 289.1 177.9 299.2 179.1C309.2 180.3 316.9 182.4 323.3 184.4C329.8 186.4 334.2 188.8 337.8 191.1C341.4 193.5 344.2 196.0 345.0 198.4C345.8 200.8 345.0 202.8 342.6 205.6C340.2 208.4 335.8 212.2 330.6 215.3C325.3 218.3 318.5 221.1 311.3 223.7C304.0 226.3 295.2 229.1 287.1 230.9C279.1 232.7 271.0 233.5 263.0 234.6C255.0 235.6 246.9 236.0 238.9 237.0C230.8 238.0 222.8 239.4 214.8 240.6C206.7 241.8 198.5 243.6 190.6 244.2C182.7 244.8 174.2 243.6 167.3 243.9C160.4 244.3 155.1 245.6 149.1 246.4C143.0 247.1 136.9 247.8 130.8 248.2C124.7 248.6 118.6 248.8 112.6 248.8C106.5 248.7 100.2 248.5 94.3 247.9C88.4 247.4 80.1 245.9 77.3 245.5Z" fill="#FFEDDB"/>
<path d="M74.8 335.9C78.0 336.5 86.9 338.0 94.1 339.1C101.4 340.2 111.0 341.7 118.3 342.7C125.5 343.7 131.9 344.2 137.6 345.1C143.2 346.0 147.2 346.8 152.0 348.0C156.9 349.2 160.9 351.0 166.5 352.4C172.1 353.7 179.4 355.0 185.8 356.0C192.2 356.9 198.3 357.6 205.1 357.9C211.9 358.2 219.2 358.2 226.8 357.9C234.5 357.6 242.9 356.9 250.9 356.0C259.0 355.0 267.0 353.4 275.1 352.4C283.1 351.3 291.1 350.2 299.2 349.5C307.2 348.7 318.2 348.1 323.3 348.0C328.5 347.9 324.9 348.2 330.0 348.7C335.1 349.3 346.9 349.9 354.1 351.1C361.4 352.4 368.9 354.4 373.4 356.0C377.9 357.6 380.7 359.0 381.1 360.8C381.5 362.6 380.3 365.2 375.8 366.8C371.3 368.4 361.8 369.7 354.1 370.4C346.5 371.2 337.1 371.2 330.0 371.2C322.9 371.2 318.4 370.7 311.3 370.4C304.1 370.2 295.2 369.9 287.1 369.7C279.1 369.5 271.0 369.2 263.0 369.2C255.0 369.2 246.9 369.3 238.9 369.7C230.8 370.1 222.8 370.8 214.8 371.7C206.7 372.5 198.7 373.8 190.6 374.5C182.6 375.3 174.5 375.9 166.5 376.0C158.5 376.1 150.4 375.8 142.4 375.3C134.3 374.7 126.3 373.9 118.3 372.9C110.2 371.9 101.4 370.6 94.1 369.2C86.9 367.9 78.0 365.6 74.8 364.9Z" fill="#FFEDDB"/>
<path d="M863.1 203.8C861.5 204.2 856.4 205.0 853.4 206.2C850.3 207.4 847.9 209.4 844.9 211.1C841.8 212.8 838.8 214.7 835.1 216.6C831.5 218.4 824.0 219.8 823.0 222.0C822.0 224.3 827.0 227.8 829.1 229.9C831.1 232.1 832.5 233.2 835.1 234.8C837.8 236.4 841.8 238.2 844.9 239.7C847.9 241.1 850.3 242.2 853.4 243.3C856.4 244.4 861.5 245.9 863.1 246.4Z" fill="#FFEDDB"/>
<path d="M866.4 337.0C863.2 337.5 851.7 338.6 847.1 339.9C842.5 341.2 840.3 342.9 838.6 344.7C837.0 346.5 836.4 348.5 837.4 350.8C838.4 353.0 839.9 355.7 844.7 358.0C849.5 360.3 862.8 363.6 866.4 364.8Z" fill="#FFEDDB"/>
<path d="M77.3 213.9C79.1 213.7 84.4 213.2 88.2 212.7C92.1 212.1 97.4 211.7 100.4 210.5C103.4 209.3 103.9 207.2 106.5 205.6C109.1 204.0 113.2 202.1 116.2 200.7C119.3 199.4 121.3 198.5 124.7 197.7C128.2 196.9 131.8 196.4 136.9 195.9C142.0 195.4 149.1 195.1 155.1 194.7C161.2 194.3 167.5 194.8 173.4 193.4C179.3 192.1 181.7 187.9 190.6 186.3C199.5 184.7 214.8 184.5 226.8 183.9C238.9 183.3 253.0 182.5 263.0 182.7C273.1 182.9 279.9 183.7 287.1 185.1C294.4 186.5 301.6 188.9 306.4 191.1C311.3 193.3 314.9 196.0 316.1 198.4C317.3 200.8 316.1 203.2 313.7 205.6C311.3 208.0 306.8 210.4 301.6 212.8C296.4 215.3 289.5 218.1 282.3 220.1C275.1 222.1 266.2 223.5 258.2 224.9C250.1 226.3 242.1 227.5 234.1 228.5C226.0 229.5 218.0 230.3 209.9 230.9C201.9 231.5 191.9 231.8 185.8 232.1C179.7 232.5 178.5 232.6 173.4 233.0C168.3 233.3 160.2 233.8 155.1 234.2C150.1 234.6 147.0 235.0 143.0 235.4C138.9 235.8 135.9 236.1 130.8 236.6C125.7 237.1 118.0 238.2 112.6 238.5C107.1 238.7 101.6 238.5 98.0 237.8C94.3 237.2 92.9 236.1 90.7 234.8C88.4 233.5 86.3 231.8 84.6 229.9C82.9 228.1 81.6 225.1 80.3 223.9C79.1 222.6 77.8 222.8 77.3 222.6Z" fill="#FFCFB8"/>
<path d="M119.5 358.4C119.9 357.2 121.9 356.3 124.3 356.2C126.7 356.1 131.9 356.9 133.9 357.9C135.9 358.9 136.9 361.4 136.3 362.5C135.7 363.6 132.7 364.3 130.3 364.4C127.9 364.5 123.7 364.2 121.9 363.2C120.1 362.2 119.1 359.5 119.5 358.4Z" fill="#FFCFB8"/>
<path d="M168.9 216.5C169.3 214.6 174.1 212.6 178.6 210.4C183.0 208.2 189.4 205.6 195.5 203.2C201.5 200.8 208.3 198.0 214.8 196.0C221.2 193.9 227.6 192.3 234.1 191.1C240.5 190.0 246.9 189.3 253.4 189.2C259.8 189.1 267.6 189.7 272.7 190.6C277.7 191.6 281.3 193.3 283.5 194.7C285.7 196.2 286.9 197.8 285.9 199.6C284.9 201.4 282.1 203.4 277.5 205.6C272.9 207.8 264.6 210.8 258.2 212.8C251.7 214.9 246.1 216.3 238.9 217.7C231.6 219.1 222.8 220.5 214.8 221.3C206.7 222.1 197.1 222.5 190.6 222.5C184.2 222.5 179.8 222.3 176.2 221.3C172.5 220.3 168.5 218.3 168.9 216.5Z" fill="#FFAD8A"/>
<path d="M77.0 383.4L82.0 384.2L87.0 385.0L92.0 386.0L97.0 387.0L102.0 388.1L107.0 389.3L112.0 390.4L117.0 391.5L122.0 392.6L127.0 393.7L132.0 394.7L137.0 395.5L142.0 396.3L147.0 396.9L152.0 397.4L157.0 397.8L162.0 398.0L167.0 398.2L172.0 398.2L177.0 398.2L182.0 398.1L187.0 398.0L192.0 397.8L197.0 397.6L202.0 397.3L207.0 397.0L212.0 396.8L217.0 396.5L222.0 396.3L227.0 396.0L232.0 395.8L237.0 395.6L242.0 395.5L247.0 395.4L252.0 395.3L257.0 395.2L262.0 395.2L267.0 395.2L272.0 395.3L277.0 395.4L282.0 395.5L287.0 395.8L292.0 396.0L297.0 396.4L302.0 396.7L307.0 397.2L312.0 397.7L317.0 398.3L322.0 399.0L327.0 399.8L332.0 401.5L337.0 404.4L342.0 407.7L347.0 410.4L352.0 412.7L357.0 414.5L362.0 416.1L367.0 417.5L372.0 418.7L377.0 419.8L382.0 420.8L387.0 421.7L392.0 422.5L397.0 423.3L402.0 423.9L407.0 424.6L412.0 425.3L417.0 425.9L422.0 426.5L427.0 427.0L432.0 427.6L437.0 428.1L442.0 428.6L447.0 429.1L452.0 429.5L457.0 430.0L462.0 430.4L467.0 430.7L472.0 431.1L477.0 431.4L482.0 431.7L487.0 432.0L492.0 432.2L497.0 432.4L502.0 432.6L507.0 432.7L512.0 432.9L517.0 433.0L522.0 433.0L527.0 433.1L532.0 433.1L537.0 433.1L542.0 433.0L547.0 432.9L552.0 432.8L557.0 432.7L562.0 432.6L567.0 432.4L572.0 432.2L577.0 432.0L582.0 431.8L587.0 431.5L592.0 431.2L597.0 430.9L602.0 430.6L607.0 430.3L612.0 429.9L617.0 429.6L622.0 429.2L627.0 428.8L632.0 428.4L637.0 427.9L642.0 427.5L647.0 427.0L652.0 426.4L657.0 425.7L662.0 424.9L667.0 423.9L672.0 422.8L677.0 421.5L682.0 419.9L687.0 418.2L692.0 416.2L697.0 413.9L702.0 411.3L707.0 408.5L712.0 405.4L717.0 402.2L722.0 398.8L727.0 395.4L732.0 392.3L737.0 389.6L742.0 387.1L747.0 384.3L752.0 381.2L757.0 378.2L762.0 375.3L767.0 372.8L772.0 370.9L777.0 369.5L782.0 368.6L787.0 368.1L792.0 367.9L797.0 368.2L802.0 368.7L807.0 369.4L812.0 370.4L817.0 371.6L822.0 372.8L827.0 374.2L832.0 375.6L837.0 377.0L842.0 378.4L847.0 379.7L852.0 380.8L857.0 381.8L862.0 382.6L867.0 383.0L863.7 491.7L77.0 491.7Z" fill="#427AFF"/>
<path d="M77.0 390.5L82.0 391.6L87.0 392.9L92.0 394.5L97.0 396.2L102.0 398.0L107.0 399.8L112.0 401.5L117.0 403.1L122.0 404.5L127.0 405.7L132.0 406.7L137.0 407.6L142.0 408.3L147.0 408.9L152.0 409.4L157.0 409.8L162.0 410.1L167.0 410.4L172.0 410.6L177.0 410.8L182.0 411.0L187.0 411.2L192.0 411.3L197.0 411.5L202.0 411.6L207.0 411.7L212.0 411.8L217.0 412.0L222.0 412.1L227.0 412.2L232.0 412.4L237.0 412.6L242.0 412.8L247.0 413.0L252.0 413.3L257.0 413.6L262.0 413.9L267.0 414.3L272.0 414.8L277.0 415.2L282.0 415.7L287.0 416.3L292.0 416.8L297.0 417.4L302.0 418.1L307.0 418.7L312.0 419.4L317.0 420.1L322.0 420.8L327.0 421.6L332.0 422.3L337.0 423.1L342.0 423.9L347.0 424.7L352.0 425.4L357.0 426.2L362.0 427.0L367.0 427.8L372.0 428.6L377.0 429.4L382.0 430.1L387.0 430.9L392.0 431.6L397.0 432.3L402.0 433.0L407.0 433.7L412.0 434.4L417.0 435.0L422.0 435.6L427.0 436.2L432.0 436.7L437.0 437.2L442.0 437.7L447.0 438.1L452.0 438.6L457.0 438.9L462.0 439.3L467.0 439.6L472.0 439.9L477.0 440.2L482.0 440.4L487.0 440.6L492.0 440.8L497.0 441.0L502.0 441.1L507.0 441.2L512.0 441.3L517.0 441.3L522.0 441.3L527.0 441.3L532.0 441.3L537.0 441.3L542.0 441.2L547.0 441.1L552.0 441.0L557.0 440.9L562.0 440.7L567.0 440.5L572.0 440.3L577.0 440.1L582.0 439.9L587.0 439.6L592.0 439.4L597.0 439.1L602.0 438.8L607.0 438.5L612.0 438.1L617.0 437.8L622.0 437.4L627.0 437.0L632.0 436.6L637.0 436.2L642.0 435.8L647.0 435.3L652.0 434.9L657.0 434.4L662.0 433.9L667.0 433.4L672.0 432.9L677.0 432.4L682.0 431.9L687.0 431.4L692.0 430.8L697.0 430.3L702.0 429.7L707.0 429.2L712.0 428.6L717.0 428.0L722.0 427.4L727.0 426.8L732.0 426.3L737.0 425.6L742.0 425.0L747.0 424.4L752.0 423.8L753.0 424.2C755.8 423.7 766.5 422.4 769.9 421.1C773.3 419.8 773.5 418.5 773.5 416.3C773.5 414.1 770.9 410.7 769.9 407.8C768.9 405.0 767.1 402.0 767.5 399.4C767.9 396.8 769.9 394.2 772.3 392.2C774.7 390.1 777.9 388.7 782.0 387.3C786.0 386.0 790.8 384.8 796.4 384.2C802.1 383.6 808.9 383.4 815.7 383.7C822.6 384.0 829.0 385.0 837.4 386.1C845.9 387.2 861.6 389.5 866.4 390.2L863.7 491.7L77.0 491.7Z" fill="#1A4DFF"/>
<path d="M77.0 437.5L85.0 435.9L93.0 434.5L101.0 433.2L109.0 432.1L117.0 431.1L125.0 430.3L133.0 429.6L141.0 429.1L149.0 428.7L157.0 428.4L165.0 428.2L173.0 428.1L181.0 428.1L189.0 428.3L197.0 428.5L205.0 428.8L213.0 429.2L221.0 429.7L229.0 430.3L237.0 430.9L245.0 431.6L253.0 432.3L261.0 433.2L269.0 434.0L277.0 434.9L285.0 435.9L293.0 436.8L301.0 437.8L309.0 438.9L317.0 439.9L325.0 441.0L333.0 442.0L341.0 443.1L349.0 444.1L357.0 445.2L365.0 446.2L373.0 447.3L381.0 448.2L389.0 449.2L397.0 450.2L405.0 451.0L413.0 451.9L421.0 452.7L429.0 453.4L437.0 454.1L445.0 454.7L453.0 455.3L461.0 455.8L469.0 456.2L477.0 456.5L485.0 456.7L493.0 456.8L501.0 456.9L509.0 456.8L517.0 456.7L525.0 456.5L533.0 456.2L541.0 455.8L549.0 455.3L557.0 454.8L565.0 454.2L573.0 453.5L581.0 452.9L589.0 452.2L597.0 451.4L605.0 450.7L613.0 450.0L621.0 449.3L629.0 448.7L637.0 448.0L645.0 447.5L653.0 446.9L661.0 446.5L669.0 446.1L677.0 445.7L685.0 445.5L693.0 445.3L701.0 445.3L709.0 445.2L717.0 445.2L725.0 445.3L733.0 445.4L741.0 445.4L749.0 445.5L757.0 445.5L765.0 445.5L773.0 445.5L781.0 445.3L789.0 445.2L797.0 444.9L805.0 444.5L813.0 444.0L821.0 443.4L829.0 442.6L837.0 441.6L845.0 440.5L853.0 439.3L861.0 437.8L869.0 436.7L863.7 491.7L77.0 491.7Z" fill="#002EE5"/>
<path d="M77.0 484.5L85.0 484.1L93.0 483.8L101.0 483.7L109.0 483.7L117.0 483.8L125.0 483.9L133.0 484.2L141.0 484.5L149.0 484.8L157.0 485.1L165.0 485.4L173.0 485.8L181.0 486.0L189.0 486.3L197.0 486.4L205.0 486.5L213.0 486.5L221.0 486.4L229.0 486.1L237.0 485.7L245.0 485.1L253.0 484.4L261.0 483.5L269.0 482.5L277.0 481.4L285.0 480.3L293.0 479.0L301.0 477.9L309.0 476.9L317.0 476.2L325.0 475.6L333.0 475.1L341.0 474.8L349.0 474.7L357.0 474.6L365.0 474.7L373.0 474.9L381.0 475.1L389.0 475.4L397.0 475.8L405.0 476.2L413.0 476.6L421.0 477.1L429.0 477.6L437.0 478.0L445.0 478.5L453.0 478.9L461.0 479.4L469.0 479.8L477.0 480.3L485.0 480.7L493.0 481.1L501.0 481.5L509.0 481.8L517.0 482.2L525.0 482.5L533.0 482.9L541.0 483.2L549.0 483.5L557.0 483.7L565.0 484.0L573.0 484.2L581.0 484.4L589.0 484.6L597.0 484.7L605.0 484.9L613.0 485.0L621.0 485.1L629.0 485.2L637.0 485.2L645.0 485.3L653.0 485.4L661.0 485.4L669.0 485.4L677.0 485.4L685.0 485.4L693.0 485.4L701.0 485.4L709.0 485.4L717.0 485.4L725.0 485.4L733.0 485.4L741.0 485.3L749.0 485.3L757.0 485.3L765.0 485.2L773.0 485.2L781.0 485.2L789.0 485.2L797.0 485.1L805.0 485.1L813.0 485.1L821.0 485.1L829.0 485.1L837.0 485.1L845.0 485.2L853.0 485.2L861.0 485.2L869.0 485.3L863.7 491.7L77.0 491.7Z" fill="#001ABA"/>
<use href="#coast" fill="none" stroke="#000" stroke-width="1.35" stroke-linejoin="round" stroke-linecap="round"/>
</g>
<rect x="80.0" y="97.8" width="780.70" height="390.90" fill="none" stroke="#151010" stroke-width="1.55"/>
</g>
<text transform="translate(170.2 35.30) scale(1.0005 1)" font-size="26.9" class="h" xml:space="preserve">CESM2B5_NFPTAERO60_gamma0p238 (yrs 2-5)</text>
<text transform="translate(429.79 530.10) scale(1.0051 1)" font-size="26.9" class="h" xml:space="preserve">JRA25</text>
<text transform="translate(171.2 1025.50) scale(1.0005 1)" font-size="26.9" class="h" xml:space="preserve">CESM2B5_NFPTAERO60_gamma0p238 - JRA25</text>
<text transform="translate(978.63 66.70) scale(0.974 1)" font-size="46.4" font-weight="bold" class="h" xml:space="preserve">ANN</text>
<text transform="translate(77.3 74.00) scale(1.09 1)" font-size="23.5" letter-spacing="1.155" class="t" xml:space="preserve">200 mb Temp</text>
<text transform="translate(381.0 79.10) scale(1.09 1)" font-size="23.5" letter-spacing="1.2" class="t" xml:space="preserve">mean=</text>
<text transform="translate(476.3 79.10) scale(1.09 1)" font-size="23.5" letter-spacing="0.636" class="t" xml:space="preserve">216.48</text>
<text transform="translate(846.94 79.10) scale(1.0121 1)" font-size="23.5" class="t" xml:space="preserve">K</text>
<text transform="translate(77.3 566.60) scale(1.09 1)" font-size="23.5" letter-spacing="1.155" class="t" xml:space="preserve">200 mb Temp</text>
<text transform="translate(381.0 571.70) scale(1.09 1)" font-size="23.5" letter-spacing="1.2" class="t" xml:space="preserve">mean=</text>
<text transform="translate(476.3 571.70) scale(1.09 1)" font-size="23.5" letter-spacing="0.636" class="t" xml:space="preserve">218.59</text>
<text transform="translate(846.94 571.70) scale(1.0121 1)" font-size="23.5" class="t" xml:space="preserve">K</text>
<text transform="translate(76.5 1064.20) scale(1.09 1)" font-size="23.5" letter-spacing="0.371" class="t" xml:space="preserve">mean</text>
<text transform="translate(152.24 1064.20) scale(1.5062 1)" font-size="23.5" class="t" xml:space="preserve">=</text>
<text transform="translate(195.9 1064.20) scale(1.09 1)" font-size="23.5" letter-spacing="0.233" class="t" xml:space="preserve"><tspan textLength="18.94" lengthAdjust="spacingAndGlyphs">&#8722;</tspan>2.11</text>
<text transform="translate(381.2 1064.20) scale(1.09 1)" font-size="23.5" letter-spacing="0.629" class="t" xml:space="preserve">rmse</text>
<text transform="translate(451.33 1064.20) scale(1.4566 1)" font-size="23.5" class="t" xml:space="preserve">=</text>
<text transform="translate(506.0 1064.20) scale(1.09 1)" font-size="23.5" letter-spacing="0.914" class="t" xml:space="preserve">2.67</text>
<text transform="translate(846.94 1064.20) scale(1.0121 1)" font-size="23.5" class="t" xml:space="preserve">K</text>
<text transform="translate(888.3 141.60) scale(1.09 1)" font-size="20.2" letter-spacing="-0.6" class="t" xml:space="preserve">Min</text>
<text transform="translate(934.67 141.60) scale(1.4497 1)" font-size="20.2" class="t" xml:space="preserve">=</text>
<text transform="translate(961.5 141.60) scale(1.09 1)" font-size="20.2" letter-spacing="1.2" class="t" xml:space="preserve">202.69</text>
<text transform="translate(1046.2 141.60) scale(1.09 1)" font-size="20.2" letter-spacing="-0.32" class="t" xml:space="preserve">Max</text>
<text transform="translate(1098.27 141.60) scale(1.4497 1)" font-size="20.2" class="t" xml:space="preserve">=</text>
<text transform="translate(1125.0 141.60) scale(1.09 1)" font-size="20.2" letter-spacing="1.255" class="t" xml:space="preserve">222.75</text>
<text transform="translate(888.3 634.20) scale(1.09 1)" font-size="20.2" letter-spacing="-0.6" class="t" xml:space="preserve">Min</text>
<text transform="translate(934.67 634.20) scale(1.4497 1)" font-size="20.2" class="t" xml:space="preserve">=</text>
<text transform="translate(961.5 634.20) scale(1.09 1)" font-size="20.2" letter-spacing="1.2" class="t" xml:space="preserve">210.55</text>
<text transform="translate(1046.2 634.20) scale(1.09 1)" font-size="20.2" letter-spacing="-0.32" class="t" xml:space="preserve">Max</text>
<text transform="translate(1098.27 634.20) scale(1.4497 1)" font-size="20.2" class="t" xml:space="preserve">=</text>
<text transform="translate(1125.0 634.20) scale(1.09 1)" font-size="20.2" letter-spacing="1.255" class="t" xml:space="preserve">222.77</text>
<text transform="translate(888.3 1126.80) scale(1.09 1)" font-size="20.2" letter-spacing="-0.6" class="t" xml:space="preserve">Min</text>
<text transform="translate(934.67 1126.80) scale(1.4497 1)" font-size="20.2" class="t" xml:space="preserve">=</text>
<text transform="translate(973.3 1126.80) scale(1.09 1)" font-size="20.2" letter-spacing="0.943" class="t" xml:space="preserve"><tspan textLength="16.28" lengthAdjust="spacingAndGlyphs">&#8722;</tspan>8.17</text>
<text transform="translate(1046.2 1126.80) scale(1.09 1)" font-size="20.2" letter-spacing="-0.32" class="t" xml:space="preserve">Max</text>
<text transform="translate(1098.27 1126.80) scale(1.4497 1)" font-size="20.2" class="t" xml:space="preserve">=</text>
<text transform="translate(1147.4 1126.80) scale(1.09 1)" font-size="20.2" letter-spacing="1.714" class="t" xml:space="preserve">2.66</text>
<rect x="999.4" y="173.10" width="45.90" height="19.53" fill="#8C0000"/>
<rect x="999.4" y="192.33" width="45.90" height="19.53" fill="#BD2600"/>
<rect x="999.4" y="211.56" width="45.90" height="19.53" fill="#E53300"/>
<rect x="999.4" y="230.79" width="45.90" height="19.53" fill="#FF521A"/>
<rect x="999.4" y="250.03" width="45.90" height="19.53" fill="#FF7842"/>
<rect x="999.4" y="269.26" width="45.90" height="19.53" fill="#FFAD8A"/>
<rect x="999.4" y="288.49" width="45.90" height="19.53" fill="#FFCFB8"/>
<rect x="999.4" y="307.72" width="45.90" height="19.53" fill="#FFEDDB"/>
<rect x="999.4" y="326.95" width="45.90" height="19.53" fill="#D9EBFF"/>
<rect x="999.4" y="346.18" width="45.90" height="19.53" fill="#B3CFFF"/>
<rect x="999.4" y="365.41" width="45.90" height="19.53" fill="#85ABFF"/>
<rect x="999.4" y="384.64" width="45.90" height="19.53" fill="#427AFF"/>
<rect x="999.4" y="403.88" width="45.90" height="19.53" fill="#1A4DFF"/>
<rect x="999.4" y="423.11" width="45.90" height="19.53" fill="#002EE5"/>
<rect x="999.4" y="442.34" width="45.90" height="19.53" fill="#001ABA"/>
<rect x="999.4" y="461.57" width="45.90" height="19.53" fill="#00008C"/>
<path d="M999.4 192.33H1045.3M999.4 211.56H1045.3M999.4 230.79H1045.3M999.4 250.03H1045.3M999.4 269.26H1045.3M999.4 288.49H1045.3M999.4 307.72H1045.3M999.4 326.95H1045.3M999.4 346.18H1045.3M999.4 365.41H1045.3M999.4 384.64H1045.3M999.4 403.88H1045.3M999.4 423.11H1045.3M999.4 442.34H1045.3M999.4 461.57H1045.3" stroke="#000" stroke-width="1.1" fill="none"/>
<rect x="999.4" y="173.1" width="45.90" height="307.70" fill="none" stroke="#000" stroke-width="1.3"/>
<text transform="translate(1058.0 198.73) scale(1.0 1)" font-size="17.6" letter-spacing="2.0" class="t" xml:space="preserve">232</text>
<text transform="translate(1058.0 217.96) scale(1.0 1)" font-size="17.6" letter-spacing="2.0" class="t" xml:space="preserve">229</text>
<text transform="translate(1058.0 237.19) scale(1.0 1)" font-size="17.6" letter-spacing="2.0" class="t" xml:space="preserve">226</text>
<text transform="translate(1058.0 256.43) scale(1.0 1)" font-size="17.6" letter-spacing="2.0" class="t" xml:space="preserve">223</text>
<text transform="translate(1058.0 275.66) scale(1.0 1)" font-size="17.6" letter-spacing="2.0" class="t" xml:space="preserve">220</text>
<text transform="translate(1058.0 294.89) scale(1.0 1)" font-size="17.6" letter-spacing="2.0" class="t" xml:space="preserve">217</text>
<text transform="translate(1058.0 314.12) scale(1.0 1)" font-size="17.6" letter-spacing="2.0" class="t" xml:space="preserve">214</text>
<text transform="translate(1058.0 333.35) scale(1.0 1)" font-size="17.6" letter-spacing="2.5" class="t" xml:space="preserve">211</text>
<text transform="translate(1058.0 352.58) scale(1.0 1)" font-size="17.6" letter-spacing="2.0" class="t" xml:space="preserve">208</text>
<text transform="translate(1058.0 371.81) scale(1.0 1)" font-size="17.6" letter-spacing="2.0" class="t" xml:space="preserve">205</text>
<text transform="translate(1058.0 391.04) scale(1.0 1)" font-size="17.6" letter-spacing="2.0" class="t" xml:space="preserve">202</text>
<text transform="translate(1057.0 410.27) scale(1.0 1)" font-size="17.6" letter-spacing="2.5" class="t" xml:space="preserve">199</text>
<text transform="translate(1057.0 429.51) scale(1.0 1)" font-size="17.6" letter-spacing="2.5" class="t" xml:space="preserve">196</text>
<text transform="translate(1057.0 448.74) scale(1.0 1)" font-size="17.6" letter-spacing="2.5" class="t" xml:space="preserve">193</text>
<text transform="translate(1057.0 467.97) scale(1.0 1)" font-size="17.6" letter-spacing="2.5" class="t" xml:space="preserve">190</text>
<rect x="999.4" y="665.70" width="45.90" height="19.53" fill="#8C0000"/>
<rect x="999.4" y="684.93" width="45.90" height="19.53" fill="#BD2600"/>
<rect x="999.4" y="704.16" width="45.90" height="19.53" fill="#E53300"/>
<rect x="999.4" y="723.39" width="45.90" height="19.53" fill="#FF521A"/>
<rect x="999.4" y="742.62" width="45.90" height="19.53" fill="#FF7842"/>
<rect x="999.4" y="761.86" width="45.90" height="19.53" fill="#FFAD8A"/>
<rect x="999.4" y="781.09" width="45.90" height="19.53" fill="#FFCFB8"/>
<rect x="999.4" y="800.32" width="45.90" height="19.53" fill="#FFEDDB"/>
<rect x="999.4" y="819.55" width="45.90" height="19.53" fill="#D9EBFF"/>
<rect x="999.4" y="838.78" width="45.90" height="19.53" fill="#B3CFFF"/>
<rect x="999.4" y="858.01" width="45.90" height="19.53" fill="#85ABFF"/>
<rect x="999.4" y="877.24" width="45.90" height="19.53" fill="#427AFF"/>
<rect x="999.4" y="896.48" width="45.90" height="19.53" fill="#1A4DFF"/>
<rect x="999.4" y="915.71" width="45.90" height="19.53" fill="#002EE5"/>
<rect x="999.4" y="934.94" width="45.90" height="19.53" fill="#001ABA"/>
<rect x="999.4" y="954.17" width="45.90" height="19.53" fill="#00008C"/>
<path d="M999.4 684.93H1045.3M999.4 704.16H1045.3M999.4 723.39H1045.3M999.4 742.62H1045.3M999.4 761.86H1045.3M999.4 781.09H1045.3M999.4 800.32H1045.3M999.4 819.55H1045.3M999.4 838.78H1045.3M999.4 858.01H1045.3M999.4 877.24H1045.3M999.4 896.48H1045.3M999.4 915.71H1045.3M999.4 934.94H1045.3M999.4 954.17H1045.3" stroke="#000" stroke-width="1.1" fill="none"/>
<rect x="999.4" y="665.7" width="45.90" height="307.70" fill="none" stroke="#000" stroke-width="1.3"/>
<text transform="translate(1058.0 691.33) scale(1.0 1)" font-size="17.6" letter-spacing="2.0" class="t" xml:space="preserve">232</text>
<text transform="translate(1058.0 710.56) scale(1.0 1)" font-size="17.6" letter-spacing="2.0" class="t" xml:space="preserve">229</text>
<text transform="translate(1058.0 729.79) scale(1.0 1)" font-size="17.6" letter-spacing="2.0" class="t" xml:space="preserve">226</text>
<text transform="translate(1058.0 749.02) scale(1.0 1)" font-size="17.6" letter-spacing="2.0" class="t" xml:space="preserve">223</text>
<text transform="translate(1058.0 768.26) scale(1.0 1)" font-size="17.6" letter-spacing="2.0" class="t" xml:space="preserve">220</text>
<text transform="translate(1058.0 787.49) scale(1.0 1)" font-size="17.6" letter-spacing="2.0" class="t" xml:space="preserve">217</text>
<text transform="translate(1058.0 806.72) scale(1.0 1)" font-size="17.6" letter-spacing="2.0" class="t" xml:space="preserve">214</text>
<text transform="translate(1058.0 825.95) scale(1.0 1)" font-size="17.6" letter-spacing="2.5" class="t" xml:space="preserve">211</text>
<text transform="translate(1058.0 845.18) scale(1.0 1)" font-size="17.6" letter-spacing="2.0" class="t" xml:space="preserve">208</text>
<text transform="translate(1058.0 864.41) scale(1.0 1)" font-size="17.6" letter-spacing="2.0" class="t" xml:space="preserve">205</text>
<text transform="translate(1058.0 883.64) scale(1.0 1)" font-size="17.6" letter-spacing="2.0" class="t" xml:space="preserve">202</text>
<text transform="translate(1057.0 902.88) scale(1.0 1)" font-size="17.6" letter-spacing="2.5" class="t" xml:space="preserve">199</text>
<text transform="translate(1057.0 922.11) scale(1.0 1)" font-size="17.6" letter-spacing="2.5" class="t" xml:space="preserve">196</text>
<text transform="translate(1057.0 941.34) scale(1.0 1)" font-size="17.6" letter-spacing="2.5" class="t" xml:space="preserve">193</text>
<text transform="translate(1057.0 960.57) scale(1.0 1)" font-size="17.6" letter-spacing="2.5" class="t" xml:space="preserve">190</text>
<rect x="996.4" y="1158.30" width="45.50" height="19.53" fill="#8C0000"/>
<rect x="996.4" y="1177.53" width="45.50" height="19.53" fill="#BD2600"/>
<rect x="996.4" y="1196.76" width="45.50" height="19.53" fill="#E53300"/>
<rect x="996.4" y="1215.99" width="45.50" height="19.53" fill="#FF521A"/>
<rect x="996.4" y="1235.22" width="45.50" height="19.53" fill="#FF7842"/>
<rect x="996.4" y="1254.46" width="45.50" height="19.53" fill="#FFAD8A"/>
<rect x="996.4" y="1273.69" width="45.50" height="19.53" fill="#FFCFB8"/>
<rect x="996.4" y="1292.92" width="45.50" height="19.53" fill="#FFEDDB"/>
<rect x="996.4" y="1312.15" width="45.50" height="19.53" fill="#D9EBFF"/>
<rect x="996.4" y="1331.38" width="45.50" height="19.53" fill="#B3CFFF"/>
<rect x="996.4" y="1350.61" width="45.50" height="19.53" fill="#85ABFF"/>
<rect x="996.4" y="1369.84" width="45.50" height="19.53" fill="#427AFF"/>
<rect x="996.4" y="1389.08" width="45.50" height="19.53" fill="#1A4DFF"/>
<rect x="996.4" y="1408.31" width="45.50" height="19.53" fill="#002EE5"/>
<rect x="996.4" y="1427.54" width="45.50" height="19.53" fill="#001ABA"/>
<rect x="996.4" y="1446.77" width="45.50" height="19.53" fill="#00008C"/>
<path d="M996.4 1177.53H1041.9M996.4 1196.76H1041.9M996.4 1215.99H1041.9M996.4 1235.22H1041.9M996.4 1254.46H1041.9M996.4 1273.69H1041.9M996.4 1292.92H1041.9M996.4 1312.15H1041.9M996.4 1331.38H1041.9M996.4 1350.61H1041.9M996.4 1369.84H1041.9M996.4 1389.08H1041.9M996.4 1408.31H1041.9M996.4 1427.54H1041.9M996.4 1446.77H1041.9" stroke="#000" stroke-width="1.1" fill="none"/>
<rect x="996.4" y="1158.3" width="45.50" height="307.70" fill="none" stroke="#000" stroke-width="1.3"/>
<text transform="translate(1060.45 1183.93) scale(1.0 1)" font-size="17.6" letter-spacing="2.5" class="t" xml:space="preserve">10</text>
<text transform="translate(1066.14 1203.16) scale(1.2125 1)" font-size="17.6" class="t" xml:space="preserve">8</text>
<text transform="translate(1066.14 1222.39) scale(1.2125 1)" font-size="17.6" class="t" xml:space="preserve">6</text>
<text transform="translate(1066.14 1241.62) scale(1.2125 1)" font-size="17.6" class="t" xml:space="preserve">4</text>
<text transform="translate(1066.14 1260.86) scale(1.2125 1)" font-size="17.6" class="t" xml:space="preserve">3</text>
<text transform="translate(1066.14 1280.09) scale(1.2125 1)" font-size="17.6" class="t" xml:space="preserve">2</text>
<text transform="translate(1065.49 1299.32) scale(1.22 1)" font-size="17.6" class="t" xml:space="preserve">1</text>
<text transform="translate(1066.14 1318.55) scale(1.2125 1)" font-size="17.6" class="t" xml:space="preserve">0</text>
<text transform="translate(1059.25 1337.78) scale(1.0 1)" font-size="17.6" letter-spacing="1.8" class="t" xml:space="preserve"><tspan textLength="14.19" lengthAdjust="spacingAndGlyphs">&#8722;</tspan>1</text>
<text transform="translate(1059.25 1357.01) scale(1.0 1)" font-size="17.6" letter-spacing="1.8" class="t" xml:space="preserve"><tspan textLength="14.19" lengthAdjust="spacingAndGlyphs">&#8722;</tspan>2</text>
<text transform="translate(1059.25 1376.24) scale(1.0 1)" font-size="17.6" letter-spacing="1.8" class="t" xml:space="preserve"><tspan textLength="14.19" lengthAdjust="spacingAndGlyphs">&#8722;</tspan>3</text>
<text transform="translate(1059.25 1395.48) scale(1.0 1)" font-size="17.6" letter-spacing="1.8" class="t" xml:space="preserve"><tspan textLength="14.19" lengthAdjust="spacingAndGlyphs">&#8722;</tspan>4</text>
<text transform="translate(1059.25 1414.71) scale(1.0 1)" font-size="17.6" letter-spacing="1.8" class="t" xml:space="preserve"><tspan textLength="14.19" lengthAdjust="spacingAndGlyphs">&#8722;</tspan>6</text>
<text transform="translate(1059.25 1433.94) scale(1.0 1)" font-size="17.6" letter-spacing="1.8" class="t" xml:space="preserve"><tspan textLength="14.19" lengthAdjust="spacingAndGlyphs">&#8722;</tspan>8</text>
<text transform="translate(1053.3 1453.17) scale(1.0 1)" font-size="17.6" letter-spacing="1.867" class="t" xml:space="preserve"><tspan textLength="14.19" lengthAdjust="spacingAndGlyphs">&#8722;</tspan>10</text>
</svg></body></html>
